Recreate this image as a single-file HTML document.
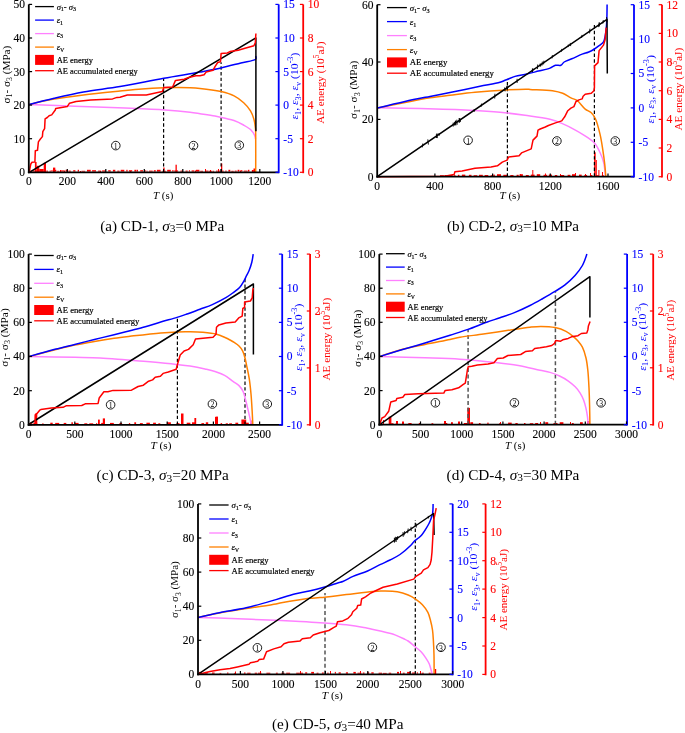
<!DOCTYPE html>
<html><head><meta charset="utf-8"><style>
html,body{margin:0;padding:0;background:#fff;width:685px;height:733px;overflow:hidden;}
svg{display:block;font-family:"Liberation Serif", serif;will-change:transform;}
</style></head><body>
<svg width="685" height="733" viewBox="0 0 685 733" font-family='"Liberation Serif", serif'>
<rect width="685" height="733" fill="#fff"/>
<rect x="34.9" y="162.0" width="1.7" height="10.3" fill="#ff0000"/>
<rect x="36.6" y="165.8" width="2.7" height="6.5" fill="#ff0000"/>
<rect x="39.3" y="169.0" width="4.4" height="3.3" fill="#ff0000"/>
<rect x="43.7" y="162.8" width="2.3" height="9.5" fill="#ff0000"/>
<rect x="53.0" y="167.6" width="2.3" height="4.7" fill="#ff0000"/>
<rect x="60.0" y="170.0" width="1.0" height="2.3" fill="#ff0000"/>
<rect x="64.0" y="170.5" width="1.0" height="1.8" fill="#ff0000"/>
<rect x="80.0" y="171.0" width="1.0" height="1.3" fill="#ff0000"/>
<rect x="100.0" y="171.0" width="1.0" height="1.3" fill="#ff0000"/>
<rect x="130.0" y="171.0" width="1.0" height="1.3" fill="#ff0000"/>
<rect x="163.3" y="167.5" width="1.3" height="4.8" fill="#ff0000"/>
<rect x="175.5" y="164.7" width="1.3" height="7.6" fill="#ff0000"/>
<rect x="195.0" y="170.5" width="1.0" height="1.8" fill="#ff0000"/>
<rect x="205.0" y="169.0" width="1.0" height="3.3" fill="#ff0000"/>
<rect x="210.0" y="170.0" width="1.0" height="2.3" fill="#ff0000"/>
<rect x="218.0" y="169.0" width="1.0" height="3.3" fill="#ff0000"/>
<rect x="221.0" y="163.5" width="1.3" height="8.8" fill="#ff0000"/>
<rect x="240.0" y="170.5" width="1.0" height="1.8" fill="#ff0000"/>
<rect x="252.0" y="170.0" width="1.0" height="2.3" fill="#ff0000"/>
<rect x="253.5" y="168.5" width="2.5" height="3.8" fill="#ff0000"/>
<rect x="30.0" y="170.8" width="1.4" height="0.8" fill="#ff0000"/>
<rect x="32.3" y="170.4" width="2.5" height="1.2" fill="#ff0000"/>
<rect x="36.1" y="170.6" width="2.1" height="1.0" fill="#ff0000"/>
<rect x="38.7" y="170.4" width="1.1" height="1.2" fill="#ff0000"/>
<rect x="41.1" y="170.8" width="3.3" height="0.8" fill="#ff0000"/>
<rect x="46.2" y="170.6" width="1.8" height="1.0" fill="#ff0000"/>
<rect x="49.6" y="170.6" width="1.3" height="1.0" fill="#ff0000"/>
<rect x="51.3" y="170.2" width="1.1" height="1.4" fill="#ff0000"/>
<rect x="52.7" y="169.8" width="3.6" height="1.8" fill="#ff0000"/>
<rect x="57.1" y="170.8" width="2.3" height="0.8" fill="#ff0000"/>
<rect x="60.8" y="170.4" width="3.3" height="1.2" fill="#ff0000"/>
<rect x="65.6" y="169.8" width="2.0" height="1.8" fill="#ff0000"/>
<rect x="68.4" y="170.6" width="2.4" height="1.0" fill="#ff0000"/>
<rect x="73.2" y="170.2" width="2.2" height="1.4" fill="#ff0000"/>
<rect x="77.7" y="169.8" width="1.3" height="1.8" fill="#ff0000"/>
<rect x="81.5" y="170.8" width="3.6" height="0.8" fill="#ff0000"/>
<rect x="87.0" y="169.8" width="3.7" height="1.8" fill="#ff0000"/>
<rect x="92.1" y="170.2" width="3.9" height="1.4" fill="#ff0000"/>
<rect x="98.1" y="170.6" width="3.0" height="1.0" fill="#ff0000"/>
<rect x="102.1" y="170.4" width="3.9" height="1.2" fill="#ff0000"/>
<rect x="108.2" y="170.2" width="2.5" height="1.4" fill="#ff0000"/>
<rect x="112.9" y="169.8" width="2.4" height="1.8" fill="#ff0000"/>
<rect x="117.3" y="170.6" width="2.2" height="1.0" fill="#ff0000"/>
<rect x="120.7" y="169.8" width="3.6" height="1.8" fill="#ff0000"/>
<rect x="126.3" y="169.8" width="1.3" height="1.8" fill="#ff0000"/>
<rect x="128.9" y="170.2" width="3.3" height="1.4" fill="#ff0000"/>
<rect x="134.4" y="169.8" width="2.1" height="1.8" fill="#ff0000"/>
<rect x="136.9" y="169.8" width="1.1" height="1.8" fill="#ff0000"/>
<rect x="140.2" y="170.2" width="2.8" height="1.4" fill="#ff0000"/>
<rect x="144.2" y="170.2" width="1.5" height="1.4" fill="#ff0000"/>
<rect x="146.5" y="170.6" width="1.0" height="1.0" fill="#ff0000"/>
<rect x="149.1" y="170.6" width="3.6" height="1.0" fill="#ff0000"/>
<rect x="153.8" y="170.2" width="2.0" height="1.4" fill="#ff0000"/>
<rect x="156.9" y="169.8" width="3.7" height="1.8" fill="#ff0000"/>
<rect x="162.2" y="170.8" width="3.9" height="0.8" fill="#ff0000"/>
<rect x="167.2" y="169.8" width="3.6" height="1.8" fill="#ff0000"/>
<rect x="172.2" y="170.2" width="1.4" height="1.4" fill="#ff0000"/>
<rect x="174.3" y="170.4" width="3.8" height="1.2" fill="#ff0000"/>
<rect x="180.4" y="170.6" width="2.7" height="1.0" fill="#ff0000"/>
<rect x="185.5" y="170.6" width="2.2" height="1.0" fill="#ff0000"/>
<rect x="188.9" y="170.2" width="1.0" height="1.4" fill="#ff0000"/>
<rect x="191.6" y="170.4" width="2.8" height="1.2" fill="#ff0000"/>
<rect x="196.0" y="169.8" width="3.4" height="1.8" fill="#ff0000"/>
<rect x="200.2" y="170.8" width="2.8" height="0.8" fill="#ff0000"/>
<rect x="205.0" y="170.6" width="3.4" height="1.0" fill="#ff0000"/>
<rect x="208.7" y="170.8" width="3.8" height="0.8" fill="#ff0000"/>
<rect x="213.0" y="170.8" width="1.1" height="0.8" fill="#ff0000"/>
<rect x="216.0" y="170.6" width="1.8" height="1.0" fill="#ff0000"/>
<rect x="218.4" y="170.6" width="2.9" height="1.0" fill="#ff0000"/>
<rect x="222.2" y="170.6" width="1.5" height="1.0" fill="#ff0000"/>
<rect x="225.2" y="170.6" width="1.5" height="1.0" fill="#ff0000"/>
<rect x="228.4" y="169.8" width="1.9" height="1.8" fill="#ff0000"/>
<rect x="231.3" y="170.8" width="2.4" height="0.8" fill="#ff0000"/>
<rect x="234.7" y="170.6" width="2.0" height="1.0" fill="#ff0000"/>
<rect x="237.6" y="169.8" width="1.8" height="1.8" fill="#ff0000"/>
<rect x="240.8" y="170.2" width="1.6" height="1.4" fill="#ff0000"/>
<rect x="243.7" y="170.6" width="3.9" height="1.0" fill="#ff0000"/>
<rect x="248.0" y="169.8" width="1.4" height="1.8" fill="#ff0000"/>
<rect x="251.8" y="170.2" width="2.3" height="1.4" fill="#ff0000"/>
<rect x="255.9" y="170.6" width="0.1" height="1.0" fill="#ff0000"/>
<line x1="163.6" y1="172.3" x2="163.6" y2="78.2" stroke="#000000" stroke-width="1.2" stroke-dasharray="3.4,2.3"/>
<line x1="221.1" y1="172.3" x2="221.1" y2="62.2" stroke="#000000" stroke-width="1.2" stroke-dasharray="3.4,2.3"/>
<path d="M29.20,104.60 C29.20,104.60 59.40,105.65 75.00,106.20 C91.30,106.78 109.26,107.32 125.00,108.00 C139.08,108.61 153.23,109.16 165.00,110.00 C174.32,110.66 183.55,111.55 190.00,112.30 C194.09,112.77 196.33,113.16 200.00,113.70 C204.50,114.36 210.52,115.14 215.00,116.00 C218.68,116.71 221.76,117.53 225.00,118.30 C228.08,119.03 231.01,119.44 234.00,120.50 C237.18,121.63 240.58,123.34 243.50,125.00 C246.21,126.53 249.06,128.07 251.00,130.00 C252.68,131.67 254.08,133.90 254.80,135.60 C255.31,136.82 255.50,139.00 255.50,139.00" fill="none" stroke="#ff80ff" stroke-width="1.5" stroke-linejoin="round"/>
<path d="M29.20,104.60 C29.20,104.60 36.14,102.69 40.00,101.80 C44.40,100.78 48.60,99.85 54.20,98.90 C62.18,97.54 73.11,96.15 83.40,94.90 C94.90,93.50 109.36,92.08 120.00,91.00 C128.23,90.17 134.59,89.45 141.90,88.90 C149.19,88.35 157.24,87.95 163.80,87.70 C169.16,87.50 173.06,87.33 178.40,87.40 C184.90,87.48 192.86,87.70 200.00,88.40 C207.09,89.10 214.97,90.13 221.10,91.60 C226.01,92.78 230.23,93.93 234.10,95.90 C237.70,97.73 240.91,100.21 243.70,102.80 C246.34,105.24 248.77,108.05 250.50,110.90 C252.08,113.51 253.07,116.21 253.90,119.10 C254.77,122.13 255.21,125.61 255.50,128.70 C255.77,131.56 255.66,133.27 255.70,137.00 C255.79,144.68 255.70,172.30 255.70,172.30" fill="none" stroke="#ff8000" stroke-width="1.5" stroke-linejoin="round"/>
<path d="M29.20,104.60 C29.20,104.60 45.53,100.33 54.20,98.30 C63.54,96.12 73.08,93.87 83.40,92.00 C94.88,89.92 107.28,88.76 120.00,86.60 C133.97,84.23 149.88,80.71 163.80,78.20 C176.43,75.93 189.56,73.99 200.00,72.10 C207.99,70.65 214.20,69.56 221.10,68.00 C227.83,66.48 234.78,64.47 240.90,62.90 C246.19,61.54 254.19,61.05 255.70,59.10 C256.37,58.23 255.70,56.10 255.70,56.10" fill="none" stroke="#0000ff" stroke-width="1.5" stroke-linejoin="round"/>
<polyline points="29.2,172.3 255.9,38.0 255.9,131.3" fill="none" stroke="#000000" stroke-width="1.5" stroke-linejoin="round" />
<polyline points="29.4,172.1 30.0,168.0 30.8,164.0 32.0,162.3 34.9,162.0 35.3,150.8 37.5,150.3 38.4,141.9 40.2,139.3 42.4,136.6 42.8,131.7 44.6,128.6 45.1,118.9 47.3,117.5 49.1,115.8 51.7,114.9 55.3,110.0 55.7,108.5 63.0,107.3 67.3,106.6 69.5,103.2 76.1,101.5 90.7,100.0 112.6,98.9 117.0,97.4 120.0,97.2 127.3,95.0 146.3,95.0 162.3,91.4 163.8,87.4 172.6,87.0 175.5,80.4 184.2,79.3 188.6,77.5 195.9,75.8 200.0,75.7 204.1,74.8 206.1,72.1 213.0,70.3 215.0,66.6 217.7,62.5 220.5,61.8 221.1,53.6 227.3,53.0 230.0,51.6 238.2,50.2 245.0,48.2 253.9,45.7 255.3,42.7 255.9,33.5" fill="none" stroke="#ff0000" stroke-width="1.5" stroke-linejoin="round" />
<circle cx="115.8" cy="145.6" r="4.3" fill="none" stroke="#111" stroke-width="0.95"/>
<text x="115.8" y="148.8" font-size="7.8" fill="#000" text-anchor="middle" >1</text>
<circle cx="193.5" cy="145.6" r="4.3" fill="none" stroke="#111" stroke-width="0.95"/>
<text x="193.5" y="148.8" font-size="7.8" fill="#000" text-anchor="middle" >2</text>
<circle cx="239.3" cy="145.2" r="4.3" fill="none" stroke="#111" stroke-width="0.95"/>
<text x="239.3" y="148.4" font-size="7.8" fill="#000" text-anchor="middle" >3</text>
<line x1="28.8" y1="4.4" x2="28.8" y2="173.2" stroke="#000000" stroke-width="1.8" />
<line x1="27.9" y1="172.3" x2="278.7" y2="172.3" stroke="#000000" stroke-width="1.8" />
<line x1="278.7" y1="4.4" x2="278.7" y2="173.2" stroke="#0000ff" stroke-width="1.8" />
<line x1="303.2" y1="4.4" x2="303.2" y2="173.2" stroke="#ff0000" stroke-width="1.8" />
<line x1="28.8" y1="172.3" x2="32.1" y2="172.3" stroke="#000000" stroke-width="1.2" />
<text x="25.0" y="176.2" font-size="11.5" fill="#000" text-anchor="end"  stroke="#000" stroke-width="0.12">0</text>
<line x1="28.8" y1="138.7" x2="32.1" y2="138.7" stroke="#000000" stroke-width="1.2" />
<text x="25.0" y="142.6" font-size="11.5" fill="#000" text-anchor="end"  stroke="#000" stroke-width="0.12">10</text>
<line x1="28.8" y1="105.1" x2="32.1" y2="105.1" stroke="#000000" stroke-width="1.2" />
<text x="25.0" y="109.0" font-size="11.5" fill="#000" text-anchor="end"  stroke="#000" stroke-width="0.12">20</text>
<line x1="28.8" y1="71.6" x2="32.1" y2="71.6" stroke="#000000" stroke-width="1.2" />
<text x="25.0" y="75.5" font-size="11.5" fill="#000" text-anchor="end"  stroke="#000" stroke-width="0.12">30</text>
<line x1="28.8" y1="38.0" x2="32.1" y2="38.0" stroke="#000000" stroke-width="1.2" />
<text x="25.0" y="41.9" font-size="11.5" fill="#000" text-anchor="end"  stroke="#000" stroke-width="0.12">40</text>
<line x1="28.8" y1="4.4" x2="32.1" y2="4.4" stroke="#000000" stroke-width="1.2" />
<text x="25.0" y="8.3" font-size="11.5" fill="#000" text-anchor="end"  stroke="#000" stroke-width="0.12">50</text>
<text x="28.8" y="184.6" font-size="11.5" fill="#000" text-anchor="middle"  stroke="#000" stroke-width="0.12">0</text>
<line x1="67.3" y1="172.3" x2="67.3" y2="169.0" stroke="#000000" stroke-width="1.2" />
<text x="67.3" y="184.6" font-size="11.5" fill="#000" text-anchor="middle"  stroke="#000" stroke-width="0.12">200</text>
<line x1="105.8" y1="172.3" x2="105.8" y2="169.0" stroke="#000000" stroke-width="1.2" />
<text x="105.8" y="184.6" font-size="11.5" fill="#000" text-anchor="middle"  stroke="#000" stroke-width="0.12">400</text>
<line x1="144.3" y1="172.3" x2="144.3" y2="169.0" stroke="#000000" stroke-width="1.2" />
<text x="144.3" y="184.6" font-size="11.5" fill="#000" text-anchor="middle"  stroke="#000" stroke-width="0.12">600</text>
<line x1="182.8" y1="172.3" x2="182.8" y2="169.0" stroke="#000000" stroke-width="1.2" />
<text x="182.8" y="184.6" font-size="11.5" fill="#000" text-anchor="middle"  stroke="#000" stroke-width="0.12">800</text>
<line x1="221.3" y1="172.3" x2="221.3" y2="169.0" stroke="#000000" stroke-width="1.2" />
<text x="221.3" y="184.6" font-size="11.5" fill="#000" text-anchor="middle"  stroke="#000" stroke-width="0.12">1000</text>
<line x1="259.8" y1="172.3" x2="259.8" y2="169.0" stroke="#000000" stroke-width="1.2" />
<text x="259.8" y="184.6" font-size="11.5" fill="#000" text-anchor="middle"  stroke="#000" stroke-width="0.12">1200</text>
<line x1="278.7" y1="172.3" x2="275.4" y2="172.3" stroke="#0000ff" stroke-width="1.2" />
<text x="283.3" y="176.2" font-size="11.5" fill="#0000ff" text-anchor="start"  stroke="#0000ff" stroke-width="0.12">-10</text>
<line x1="278.7" y1="138.7" x2="275.4" y2="138.7" stroke="#0000ff" stroke-width="1.2" />
<text x="283.3" y="142.6" font-size="11.5" fill="#0000ff" text-anchor="start"  stroke="#0000ff" stroke-width="0.12">-5</text>
<line x1="278.7" y1="105.1" x2="275.4" y2="105.1" stroke="#0000ff" stroke-width="1.2" />
<text x="283.3" y="109.0" font-size="11.5" fill="#0000ff" text-anchor="start"  stroke="#0000ff" stroke-width="0.12">0</text>
<line x1="278.7" y1="71.6" x2="275.4" y2="71.6" stroke="#0000ff" stroke-width="1.2" />
<text x="283.3" y="75.5" font-size="11.5" fill="#0000ff" text-anchor="start"  stroke="#0000ff" stroke-width="0.12">5</text>
<line x1="278.7" y1="38.0" x2="275.4" y2="38.0" stroke="#0000ff" stroke-width="1.2" />
<text x="283.3" y="41.9" font-size="11.5" fill="#0000ff" text-anchor="start"  stroke="#0000ff" stroke-width="0.12">10</text>
<line x1="278.7" y1="4.4" x2="275.4" y2="4.4" stroke="#0000ff" stroke-width="1.2" />
<text x="283.3" y="8.3" font-size="11.5" fill="#0000ff" text-anchor="start"  stroke="#0000ff" stroke-width="0.12">15</text>
<line x1="303.2" y1="172.3" x2="299.9" y2="172.3" stroke="#ff0000" stroke-width="1.2" />
<text x="307.8" y="176.2" font-size="11.5" fill="#ff0000" text-anchor="start"  stroke="#ff0000" stroke-width="0.12">0</text>
<line x1="303.2" y1="138.7" x2="299.9" y2="138.7" stroke="#ff0000" stroke-width="1.2" />
<text x="307.8" y="142.6" font-size="11.5" fill="#ff0000" text-anchor="start"  stroke="#ff0000" stroke-width="0.12">2</text>
<line x1="303.2" y1="105.1" x2="299.9" y2="105.1" stroke="#ff0000" stroke-width="1.2" />
<text x="307.8" y="109.0" font-size="11.5" fill="#ff0000" text-anchor="start"  stroke="#ff0000" stroke-width="0.12">4</text>
<line x1="303.2" y1="71.6" x2="299.9" y2="71.6" stroke="#ff0000" stroke-width="1.2" />
<text x="307.8" y="75.5" font-size="11.5" fill="#ff0000" text-anchor="start"  stroke="#ff0000" stroke-width="0.12">6</text>
<line x1="303.2" y1="38.0" x2="299.9" y2="38.0" stroke="#ff0000" stroke-width="1.2" />
<text x="307.8" y="41.9" font-size="11.5" fill="#ff0000" text-anchor="start"  stroke="#ff0000" stroke-width="0.12">8</text>
<line x1="303.2" y1="4.4" x2="299.9" y2="4.4" stroke="#ff0000" stroke-width="1.2" />
<text x="307.8" y="8.3" font-size="11.5" fill="#ff0000" text-anchor="start"  stroke="#ff0000" stroke-width="0.12">10</text>
<text x="0" y="0" font-size="11.3" fill="#000" text-anchor="middle" transform="translate(9.8,74.6) rotate(-90)" textLength="57.8" lengthAdjust="spacingAndGlyphs"><tspan>σ</tspan><tspan dy="2.49" font-size="7.91">1</tspan><tspan dy="-2.49">- </tspan><tspan>σ</tspan><tspan dy="2.49" font-size="7.91">3</tspan><tspan dy="-2.49"> (MPa)</tspan></text>
<text x="0" y="0" font-size="11.3" fill="#0000ff" text-anchor="middle" transform="translate(298.0,86.1) rotate(-90)" textLength="66.9" lengthAdjust="spacingAndGlyphs"><tspan font-style="italic">ε</tspan><tspan dy="2.49" font-size="7.91">1</tspan><tspan dy="-2.49">, </tspan><tspan font-style="italic">ε</tspan><tspan dy="2.49" font-size="7.91">3</tspan><tspan dy="-2.49">, </tspan><tspan font-style="italic">ε</tspan><tspan dy="2.49" font-size="7.91">v</tspan><tspan dy="-2.49"> (10</tspan><tspan dy="-4.52" font-size="7.91">-3</tspan><tspan dy="4.52">)</tspan></text>
<text x="0" y="0" font-size="11.3" fill="#ff0000" text-anchor="middle" transform="translate(323.9,82.7) rotate(-90)" textLength="82.2" lengthAdjust="spacingAndGlyphs"><tspan>AE energy (10</tspan><tspan dy="-4.52" font-size="7.91">5</tspan><tspan dy="4.52">aJ)</tspan></text>
<text x="163.2" y="198.8" font-size="11.3" fill="#000" text-anchor="middle" textLength="20.3" lengthAdjust="spacingAndGlyphs"><tspan font-style="italic">T</tspan><tspan> (s)</tspan></text>
<text x="162.2" y="230.8" font-size="15.2" fill="#000" text-anchor="middle" textLength="124.1" lengthAdjust="spacingAndGlyphs"><tspan>(a) CD-1, </tspan><tspan font-style="italic">σ</tspan><tspan dy="1.52" font-size="11.40">3</tspan><tspan dy="-1.52">=0 MPa</tspan></text>
<line x1="35.1" y1="6.6" x2="53.9" y2="6.6" stroke="#000000" stroke-width="1.3" />
<text x="56.7" y="9.6" font-size="8.45" fill="#000" text-anchor="start"  stroke="#000" stroke-width="0.18"><tspan font-style="italic">σ</tspan><tspan dy="1.86" font-size="5.91">1</tspan><tspan dy="-1.86">- </tspan><tspan font-style="italic">σ</tspan><tspan dy="1.86" font-size="5.91">3</tspan></text>
<line x1="35.1" y1="20.1" x2="53.9" y2="20.1" stroke="#0000ff" stroke-width="1.3" />
<text x="56.7" y="23.1" font-size="8.45" fill="#000" text-anchor="start"  stroke="#000" stroke-width="0.18"><tspan font-style="italic">ε</tspan><tspan dy="1.86" font-size="5.91">1</tspan></text>
<line x1="35.1" y1="33.6" x2="53.9" y2="33.6" stroke="#ff80ff" stroke-width="1.3" />
<text x="56.7" y="36.6" font-size="8.45" fill="#000" text-anchor="start"  stroke="#000" stroke-width="0.18"><tspan font-style="italic">ε</tspan><tspan dy="1.86" font-size="5.91">3</tspan></text>
<line x1="35.1" y1="47.1" x2="53.9" y2="47.1" stroke="#ff8000" stroke-width="1.3" />
<text x="56.7" y="50.1" font-size="8.45" fill="#000" text-anchor="start"  stroke="#000" stroke-width="0.18"><tspan font-style="italic">ε</tspan><tspan dy="1.86" font-size="5.91">V</tspan></text>
<rect x="35.1" y="54.9" width="18.8" height="10.0" fill="#ff0000"/>
<text x="56.7" y="62.9" font-size="8.45" fill="#000" text-anchor="start"  stroke="#000" stroke-width="0.18" textLength="36.2" lengthAdjust="spacingAndGlyphs">AE energy</text>
<line x1="35.1" y1="70.7" x2="53.9" y2="70.7" stroke="#ff0000" stroke-width="1.3" />
<text x="56.7" y="73.7" font-size="8.45" fill="#000" text-anchor="start"  stroke="#000" stroke-width="0.18" textLength="81.0" lengthAdjust="spacingAndGlyphs">AE accumulated energy</text>
<rect x="594.1" y="152.3" width="1.6" height="24.4" fill="#ff0000"/>
<rect x="595.8" y="160.0" width="1.0" height="16.7" fill="#ff0000"/>
<rect x="532.3" y="170.0" width="1.0" height="6.7" fill="#ff0000"/>
<rect x="598.4" y="170.0" width="1.0" height="6.7" fill="#ff0000"/>
<rect x="602.0" y="172.0" width="1.0" height="4.7" fill="#ff0000"/>
<rect x="520.0" y="174.0" width="1.0" height="2.7" fill="#ff0000"/>
<rect x="545.0" y="173.5" width="1.0" height="3.2" fill="#ff0000"/>
<rect x="560.0" y="174.0" width="1.0" height="2.7" fill="#ff0000"/>
<rect x="575.0" y="173.0" width="1.0" height="3.7" fill="#ff0000"/>
<rect x="585.0" y="174.0" width="1.0" height="2.7" fill="#ff0000"/>
<rect x="590.0" y="173.0" width="1.0" height="3.7" fill="#ff0000"/>
<rect x="440.0" y="175.2" width="3.9" height="0.8" fill="#ff0000"/>
<rect x="444.6" y="175.0" width="2.1" height="1.0" fill="#ff0000"/>
<rect x="449.6" y="175.0" width="3.0" height="1.0" fill="#ff0000"/>
<rect x="453.9" y="175.2" width="1.6" height="0.8" fill="#ff0000"/>
<rect x="457.9" y="174.8" width="1.5" height="1.2" fill="#ff0000"/>
<rect x="461.9" y="174.6" width="3.4" height="1.4" fill="#ff0000"/>
<rect x="468.9" y="174.8" width="2.6" height="1.2" fill="#ff0000"/>
<rect x="473.6" y="175.2" width="3.7" height="0.8" fill="#ff0000"/>
<rect x="479.0" y="174.8" width="3.8" height="1.2" fill="#ff0000"/>
<rect x="484.6" y="175.0" width="3.7" height="1.0" fill="#ff0000"/>
<rect x="490.6" y="175.2" width="1.7" height="0.8" fill="#ff0000"/>
<rect x="493.3" y="174.6" width="1.5" height="1.4" fill="#ff0000"/>
<rect x="497.0" y="174.2" width="4.0" height="1.8" fill="#ff0000"/>
<rect x="503.3" y="174.8" width="4.0" height="1.2" fill="#ff0000"/>
<rect x="510.3" y="175.0" width="3.2" height="1.0" fill="#ff0000"/>
<rect x="516.6" y="174.8" width="2.1" height="1.2" fill="#ff0000"/>
<rect x="519.6" y="174.2" width="3.3" height="1.8" fill="#ff0000"/>
<rect x="525.8" y="175.0" width="3.0" height="1.0" fill="#ff0000"/>
<rect x="530.8" y="174.6" width="3.8" height="1.4" fill="#ff0000"/>
<rect x="536.8" y="174.2" width="3.4" height="1.8" fill="#ff0000"/>
<rect x="543.5" y="174.8" width="3.7" height="1.2" fill="#ff0000"/>
<rect x="548.8" y="174.6" width="3.2" height="1.4" fill="#ff0000"/>
<rect x="554.8" y="175.0" width="2.5" height="1.0" fill="#ff0000"/>
<rect x="560.8" y="175.0" width="3.4" height="1.0" fill="#ff0000"/>
<rect x="567.6" y="174.8" width="2.8" height="1.2" fill="#ff0000"/>
<rect x="572.0" y="174.2" width="3.9" height="1.8" fill="#ff0000"/>
<rect x="579.0" y="174.6" width="2.7" height="1.4" fill="#ff0000"/>
<rect x="584.3" y="175.0" width="2.8" height="1.0" fill="#ff0000"/>
<rect x="589.9" y="175.0" width="2.5" height="1.0" fill="#ff0000"/>
<rect x="595.9" y="175.2" width="2.9" height="0.8" fill="#ff0000"/>
<rect x="601.8" y="175.2" width="2.0" height="0.8" fill="#ff0000"/>
<line x1="507.4" y1="176.7" x2="507.4" y2="78.7" stroke="#000000" stroke-width="1.2" stroke-dasharray="3.4,2.3"/>
<line x1="594.4" y1="176.7" x2="594.4" y2="25.0" stroke="#000000" stroke-width="1.2" stroke-dasharray="3.4,2.3"/>
<path d="M377.50,107.80 C377.50,107.80 405.19,108.21 419.90,108.60 C435.86,109.02 455.25,109.57 469.80,110.30 C481.13,110.87 490.42,111.41 500.00,112.30 C508.74,113.11 516.69,114.13 525.00,115.30 C533.32,116.47 543.08,117.59 549.90,119.30 C554.84,120.54 558.29,121.88 562.40,123.60 C566.62,125.37 570.78,127.55 574.90,129.80 C579.11,132.10 583.84,134.78 587.40,137.30 C590.31,139.36 592.83,141.03 594.90,143.50 C597.01,146.02 598.46,149.21 599.90,152.30 C601.38,155.47 602.71,158.74 603.60,162.30 C604.57,166.16 605.02,172.33 605.30,174.70 C605.41,175.65 605.50,176.70 605.50,176.70" fill="none" stroke="#ff80ff" stroke-width="1.5" stroke-linejoin="round"/>
<path d="M377.50,108.00 C377.50,108.00 396.05,104.24 405.00,102.50 C413.53,100.85 422.11,99.05 430.00,97.80 C437.02,96.68 442.96,96.08 450.00,95.20 C457.87,94.22 466.18,93.05 475.00,92.20 C484.88,91.25 497.04,90.40 506.50,89.90 C514.23,89.49 524.06,89.04 527.60,89.20 C528.80,89.25 528.79,89.39 530.00,89.50 C533.69,89.83 546.50,89.78 552.50,90.70 C556.60,91.33 559.56,92.04 562.70,93.30 C565.67,94.49 568.33,96.66 570.90,97.90 C573.05,98.94 574.97,99.00 577.00,100.40 C579.74,102.28 582.52,106.96 585.20,109.10 C587.26,110.75 589.61,111.11 591.30,112.70 C593.02,114.32 594.17,116.19 595.40,118.80 C597.22,122.66 598.76,129.01 600.00,134.20 C601.23,139.35 601.99,144.64 602.80,149.80 C603.59,154.84 604.29,160.08 604.80,164.80 C605.26,168.99 605.80,176.70 605.80,176.70" fill="none" stroke="#ff8000" stroke-width="1.5" stroke-linejoin="round"/>
<path d="M377.50,108.00 C377.50,108.00 396.04,103.47 405.00,101.50 C413.52,99.63 422.13,97.97 430.00,96.40 C437.03,95.00 442.66,93.97 450.00,92.50 C458.99,90.69 471.01,88.13 480.00,86.30 C487.34,84.81 495.59,83.61 500.00,82.30 C502.26,81.63 503.54,80.86 505.00,80.30 C506.12,79.87 506.80,79.66 508.00,79.20 C509.85,78.49 512.33,77.20 515.00,76.40 C518.36,75.39 522.81,74.88 526.70,74.00 C530.61,73.12 534.51,72.08 538.40,71.10 C542.28,70.12 546.90,69.27 550.00,68.10 C552.23,67.26 553.62,65.75 555.50,65.30 C557.26,64.88 559.42,65.91 560.90,65.30 C562.28,64.73 562.75,62.97 564.20,62.00 C566.12,60.71 569.04,60.00 571.80,58.80 C575.14,57.36 579.75,55.05 582.80,53.90 C584.89,53.11 586.42,52.91 588.20,52.20 C590.05,51.46 591.92,50.56 593.70,49.50 C595.55,48.40 597.43,47.02 599.10,45.70 C600.68,44.45 602.50,43.37 603.50,41.80 C604.48,40.26 604.67,38.38 605.10,36.40 C605.61,34.08 605.92,31.35 606.20,28.70 C606.50,25.89 606.65,23.32 606.80,20.00 C607.00,15.58 607.10,4.50 607.10,4.50" fill="none" stroke="#0000ff" stroke-width="1.5" stroke-linejoin="round"/>
<polyline points="377.2,176.7 607.0,19.3 607.3,73.6" fill="none" stroke="#000000" stroke-width="1.5" stroke-linejoin="round" />
<line x1="504.6" y1="87.5" x2="505.1" y2="91.4" stroke="#000000" stroke-width="0.9" />
<line x1="507.1" y1="85.8" x2="507.2" y2="89.7" stroke="#000000" stroke-width="0.9" />
<line x1="454.5" y1="121.8" x2="454.7" y2="125.6" stroke="#000000" stroke-width="0.9" />
<line x1="568.3" y1="44.5" x2="568.1" y2="47.1" stroke="#000000" stroke-width="0.9" />
<line x1="437.0" y1="133.4" x2="437.2" y2="138.1" stroke="#000000" stroke-width="0.9" />
<line x1="427.8" y1="139.4" x2="428.4" y2="144.6" stroke="#000000" stroke-width="0.9" />
<line x1="542.3" y1="61.6" x2="541.9" y2="65.7" stroke="#000000" stroke-width="0.9" />
<line x1="422.8" y1="143.5" x2="422.3" y2="147.4" stroke="#000000" stroke-width="0.9" />
<line x1="455.6" y1="121.5" x2="455.0" y2="124.6" stroke="#000000" stroke-width="0.9" />
<line x1="506.8" y1="86.1" x2="507.2" y2="89.8" stroke="#000000" stroke-width="0.9" />
<line x1="517.1" y1="78.8" x2="517.1" y2="83.0" stroke="#000000" stroke-width="0.9" />
<line x1="543.9" y1="60.7" x2="543.6" y2="64.4" stroke="#000000" stroke-width="0.9" />
<line x1="606.6" y1="17.0" x2="607.0" y2="22.2" stroke="#000000" stroke-width="0.9" />
<line x1="552.4" y1="55.1" x2="552.0" y2="58.4" stroke="#000000" stroke-width="0.9" />
<line x1="474.1" y1="109.1" x2="474.4" y2="111.7" stroke="#000000" stroke-width="0.9" />
<line x1="494.9" y1="93.7" x2="494.7" y2="98.5" stroke="#000000" stroke-width="0.9" />
<line x1="599.2" y1="22.3" x2="598.6" y2="27.1" stroke="#000000" stroke-width="0.9" />
<line x1="459.2" y1="118.0" x2="459.2" y2="123.0" stroke="#000000" stroke-width="0.9" />
<line x1="603.3" y1="20.1" x2="602.8" y2="23.6" stroke="#000000" stroke-width="0.9" />
<line x1="537.7" y1="64.5" x2="537.4" y2="69.1" stroke="#000000" stroke-width="0.9" />
<line x1="436.3" y1="134.6" x2="436.9" y2="137.9" stroke="#000000" stroke-width="0.9" />
<line x1="561.8" y1="48.9" x2="561.4" y2="51.7" stroke="#000000" stroke-width="0.9" />
<line x1="438.9" y1="133.2" x2="439.3" y2="135.7" stroke="#000000" stroke-width="0.9" />
<line x1="453.2" y1="122.6" x2="453.2" y2="126.6" stroke="#000000" stroke-width="0.9" />
<line x1="455.7" y1="120.7" x2="455.2" y2="125.2" stroke="#000000" stroke-width="0.9" />
<line x1="540.4" y1="63.6" x2="540.3" y2="66.3" stroke="#000000" stroke-width="0.9" />
<line x1="459.8" y1="118.5" x2="460.4" y2="121.7" stroke="#000000" stroke-width="0.9" />
<line x1="570.2" y1="42.9" x2="570.7" y2="46.1" stroke="#000000" stroke-width="0.9" />
<line x1="459.4" y1="118.6" x2="459.8" y2="122.1" stroke="#000000" stroke-width="0.9" />
<line x1="540.0" y1="63.8" x2="540.6" y2="66.5" stroke="#000000" stroke-width="0.9" />
<line x1="459.9" y1="118.5" x2="460.2" y2="121.6" stroke="#000000" stroke-width="0.9" />
<line x1="481.5" y1="103.6" x2="481.0" y2="106.9" stroke="#000000" stroke-width="0.9" />
<line x1="436.9" y1="133.8" x2="436.5" y2="137.9" stroke="#000000" stroke-width="0.9" />
<line x1="532.4" y1="68.6" x2="532.4" y2="72.1" stroke="#000000" stroke-width="0.9" />
<line x1="599.4" y1="22.7" x2="599.4" y2="26.4" stroke="#000000" stroke-width="0.9" />
<line x1="582.0" y1="34.9" x2="581.6" y2="37.9" stroke="#000000" stroke-width="0.9" />
<line x1="589.9" y1="28.7" x2="589.6" y2="33.4" stroke="#000000" stroke-width="0.9" />
<line x1="455.5" y1="120.8" x2="456.0" y2="125.3" stroke="#000000" stroke-width="0.9" />
<line x1="456.8" y1="119.7" x2="457.2" y2="124.7" stroke="#000000" stroke-width="0.9" />
<line x1="532.9" y1="68.3" x2="532.4" y2="71.9" stroke="#000000" stroke-width="0.9" />
<polyline points="377.5,176.7 444.5,176.2 454.1,174.6 454.9,171.7 462.1,171.1 475.0,168.2 491.0,166.9 497.4,165.8 502.3,162.1 507.1,160.1 508.7,156.9 519.1,155.7 521.5,152.9 531.2,148.9 533.0,140.1 537.0,136.1 538.0,130.2 540.2,129.0 545.3,127.0 548.4,125.5 555.5,122.9 561.7,120.9 564.7,116.8 567.8,110.7 570.9,108.1 573.9,106.6 576.0,101.5 579.0,99.9 582.1,98.9 583.1,96.3 585.2,94.3 591.3,93.3 593.9,90.7 594.4,88.2 594.6,65.9 598.0,62.6 599.1,50.6 603.5,45.1 605.1,39.7 606.2,27.6" fill="none" stroke="#ff0000" stroke-width="1.5" stroke-linejoin="round" />
<circle cx="468.1" cy="140.3" r="4.3" fill="none" stroke="#111" stroke-width="0.95"/>
<text x="468.1" y="143.5" font-size="7.8" fill="#000" text-anchor="middle" >1</text>
<circle cx="556.9" cy="141.0" r="4.3" fill="none" stroke="#111" stroke-width="0.95"/>
<text x="556.9" y="144.2" font-size="7.8" fill="#000" text-anchor="middle" >2</text>
<circle cx="615.3" cy="141.0" r="4.3" fill="none" stroke="#111" stroke-width="0.95"/>
<text x="615.3" y="144.2" font-size="7.8" fill="#000" text-anchor="middle" >3</text>
<line x1="377.2" y1="4.7" x2="377.2" y2="177.6" stroke="#000000" stroke-width="1.8" />
<line x1="376.3" y1="176.7" x2="634.0" y2="176.7" stroke="#000000" stroke-width="1.8" />
<line x1="634.0" y1="4.7" x2="634.0" y2="177.6" stroke="#0000ff" stroke-width="1.8" />
<line x1="662.0" y1="4.7" x2="662.0" y2="177.6" stroke="#ff0000" stroke-width="1.8" />
<line x1="377.2" y1="176.7" x2="380.5" y2="176.7" stroke="#000000" stroke-width="1.2" />
<text x="373.4" y="180.6" font-size="11.5" fill="#000" text-anchor="end"  stroke="#000" stroke-width="0.12">0</text>
<line x1="377.2" y1="119.4" x2="380.5" y2="119.4" stroke="#000000" stroke-width="1.2" />
<text x="373.4" y="123.3" font-size="11.5" fill="#000" text-anchor="end"  stroke="#000" stroke-width="0.12">20</text>
<line x1="377.2" y1="62.0" x2="380.5" y2="62.0" stroke="#000000" stroke-width="1.2" />
<text x="373.4" y="65.9" font-size="11.5" fill="#000" text-anchor="end"  stroke="#000" stroke-width="0.12">40</text>
<line x1="377.2" y1="4.7" x2="380.5" y2="4.7" stroke="#000000" stroke-width="1.2" />
<text x="373.4" y="8.6" font-size="11.5" fill="#000" text-anchor="end"  stroke="#000" stroke-width="0.12">60</text>
<text x="377.2" y="189.5" font-size="11.5" fill="#000" text-anchor="middle"  stroke="#000" stroke-width="0.12">0</text>
<line x1="434.9" y1="176.7" x2="434.9" y2="173.4" stroke="#000000" stroke-width="1.2" />
<text x="434.9" y="189.5" font-size="11.5" fill="#000" text-anchor="middle"  stroke="#000" stroke-width="0.12">400</text>
<line x1="492.6" y1="176.7" x2="492.6" y2="173.4" stroke="#000000" stroke-width="1.2" />
<text x="492.6" y="189.5" font-size="11.5" fill="#000" text-anchor="middle"  stroke="#000" stroke-width="0.12">800</text>
<line x1="550.3" y1="176.7" x2="550.3" y2="173.4" stroke="#000000" stroke-width="1.2" />
<text x="550.3" y="189.5" font-size="11.5" fill="#000" text-anchor="middle"  stroke="#000" stroke-width="0.12">1200</text>
<line x1="608.0" y1="176.7" x2="608.0" y2="173.4" stroke="#000000" stroke-width="1.2" />
<text x="608.0" y="189.5" font-size="11.5" fill="#000" text-anchor="middle"  stroke="#000" stroke-width="0.12">1600</text>
<line x1="634.0" y1="176.7" x2="630.7" y2="176.7" stroke="#0000ff" stroke-width="1.2" />
<text x="638.6" y="180.6" font-size="11.5" fill="#0000ff" text-anchor="start"  stroke="#0000ff" stroke-width="0.12">-10</text>
<line x1="634.0" y1="142.3" x2="630.7" y2="142.3" stroke="#0000ff" stroke-width="1.2" />
<text x="638.6" y="146.2" font-size="11.5" fill="#0000ff" text-anchor="start"  stroke="#0000ff" stroke-width="0.12">-5</text>
<line x1="634.0" y1="107.9" x2="630.7" y2="107.9" stroke="#0000ff" stroke-width="1.2" />
<text x="638.6" y="111.8" font-size="11.5" fill="#0000ff" text-anchor="start"  stroke="#0000ff" stroke-width="0.12">0</text>
<line x1="634.0" y1="73.5" x2="630.7" y2="73.5" stroke="#0000ff" stroke-width="1.2" />
<text x="638.6" y="77.4" font-size="11.5" fill="#0000ff" text-anchor="start"  stroke="#0000ff" stroke-width="0.12">5</text>
<line x1="634.0" y1="39.1" x2="630.7" y2="39.1" stroke="#0000ff" stroke-width="1.2" />
<text x="638.6" y="43.0" font-size="11.5" fill="#0000ff" text-anchor="start"  stroke="#0000ff" stroke-width="0.12">10</text>
<line x1="634.0" y1="4.7" x2="630.7" y2="4.7" stroke="#0000ff" stroke-width="1.2" />
<text x="638.6" y="8.6" font-size="11.5" fill="#0000ff" text-anchor="start"  stroke="#0000ff" stroke-width="0.12">15</text>
<line x1="662.0" y1="176.7" x2="658.7" y2="176.7" stroke="#ff0000" stroke-width="1.2" />
<text x="666.6" y="180.6" font-size="11.5" fill="#ff0000" text-anchor="start"  stroke="#ff0000" stroke-width="0.12">0</text>
<line x1="662.0" y1="148.0" x2="658.7" y2="148.0" stroke="#ff0000" stroke-width="1.2" />
<text x="666.6" y="151.9" font-size="11.5" fill="#ff0000" text-anchor="start"  stroke="#ff0000" stroke-width="0.12">2</text>
<line x1="662.0" y1="119.4" x2="658.7" y2="119.4" stroke="#ff0000" stroke-width="1.2" />
<text x="666.6" y="123.3" font-size="11.5" fill="#ff0000" text-anchor="start"  stroke="#ff0000" stroke-width="0.12">4</text>
<line x1="662.0" y1="90.7" x2="658.7" y2="90.7" stroke="#ff0000" stroke-width="1.2" />
<text x="666.6" y="94.6" font-size="11.5" fill="#ff0000" text-anchor="start"  stroke="#ff0000" stroke-width="0.12">6</text>
<line x1="662.0" y1="62.0" x2="658.7" y2="62.0" stroke="#ff0000" stroke-width="1.2" />
<text x="666.6" y="65.9" font-size="11.5" fill="#ff0000" text-anchor="start"  stroke="#ff0000" stroke-width="0.12">8</text>
<line x1="662.0" y1="33.4" x2="658.7" y2="33.4" stroke="#ff0000" stroke-width="1.2" />
<text x="666.6" y="37.3" font-size="11.5" fill="#ff0000" text-anchor="start"  stroke="#ff0000" stroke-width="0.12">10</text>
<line x1="662.0" y1="4.7" x2="658.7" y2="4.7" stroke="#ff0000" stroke-width="1.2" />
<text x="666.6" y="8.6" font-size="11.5" fill="#ff0000" text-anchor="start"  stroke="#ff0000" stroke-width="0.12">12</text>
<text x="0" y="0" font-size="11.3" fill="#000" text-anchor="middle" transform="translate(357.3,89.9) rotate(-90)" textLength="58.3" lengthAdjust="spacingAndGlyphs"><tspan>σ</tspan><tspan dy="2.49" font-size="7.91">1</tspan><tspan dy="-2.49">- </tspan><tspan>σ</tspan><tspan dy="2.49" font-size="7.91">3</tspan><tspan dy="-2.49"> (MPa)</tspan></text>
<text x="0" y="0" font-size="11.3" fill="#0000ff" text-anchor="middle" transform="translate(653.8,89.3) rotate(-90)" textLength="68.5" lengthAdjust="spacingAndGlyphs"><tspan font-style="italic">ε</tspan><tspan dy="2.49" font-size="7.91">1</tspan><tspan dy="-2.49">, </tspan><tspan font-style="italic">ε</tspan><tspan dy="2.49" font-size="7.91">3</tspan><tspan dy="-2.49">, </tspan><tspan font-style="italic">ε</tspan><tspan dy="2.49" font-size="7.91">v</tspan><tspan dy="-2.49"> (10</tspan><tspan dy="-4.52" font-size="7.91">-3</tspan><tspan dy="4.52">)</tspan></text>
<text x="0" y="0" font-size="11.3" fill="#ff0000" text-anchor="middle" transform="translate(682.0,89.2) rotate(-90)" textLength="82.8" lengthAdjust="spacingAndGlyphs"><tspan>AE energy (10</tspan><tspan dy="-4.52" font-size="7.91">5</tspan><tspan dy="4.52">aJ)</tspan></text>
<text x="509.8" y="199.3" font-size="11.3" fill="#000" text-anchor="middle" textLength="20.7" lengthAdjust="spacingAndGlyphs"><tspan font-style="italic">T</tspan><tspan> (s)</tspan></text>
<text x="513.0" y="230.6" font-size="15.2" fill="#000" text-anchor="middle" textLength="132.2" lengthAdjust="spacingAndGlyphs"><tspan>(b) CD-2, </tspan><tspan font-style="italic">σ</tspan><tspan dy="1.52" font-size="11.40">3</tspan><tspan dy="-1.52">=10 MPa</tspan></text>
<line x1="387.0" y1="7.6" x2="406.9" y2="7.6" stroke="#000000" stroke-width="1.3" />
<text x="409.7" y="10.6" font-size="8.77" fill="#000" text-anchor="start"  stroke="#000" stroke-width="0.18"><tspan font-style="italic">σ</tspan><tspan dy="1.93" font-size="6.14">1</tspan><tspan dy="-1.93">- </tspan><tspan font-style="italic">σ</tspan><tspan dy="1.93" font-size="6.14">3</tspan></text>
<line x1="387.0" y1="21.6" x2="406.9" y2="21.6" stroke="#0000ff" stroke-width="1.3" />
<text x="409.7" y="24.6" font-size="8.77" fill="#000" text-anchor="start"  stroke="#000" stroke-width="0.18"><tspan font-style="italic">ε</tspan><tspan dy="1.93" font-size="6.14">1</tspan></text>
<line x1="387.0" y1="35.6" x2="406.9" y2="35.6" stroke="#ff80ff" stroke-width="1.3" />
<text x="409.7" y="38.6" font-size="8.77" fill="#000" text-anchor="start"  stroke="#000" stroke-width="0.18"><tspan font-style="italic">ε</tspan><tspan dy="1.93" font-size="6.14">3</tspan></text>
<line x1="387.0" y1="49.6" x2="406.9" y2="49.6" stroke="#ff8000" stroke-width="1.3" />
<text x="409.7" y="52.6" font-size="8.77" fill="#000" text-anchor="start"  stroke="#000" stroke-width="0.18"><tspan font-style="italic">ε</tspan><tspan dy="1.93" font-size="6.14">V</tspan></text>
<rect x="387.0" y="57.4" width="19.9" height="10.0" fill="#ff0000"/>
<text x="409.7" y="65.4" font-size="8.77" fill="#000" text-anchor="start"  stroke="#000" stroke-width="0.18" textLength="37.6" lengthAdjust="spacingAndGlyphs">AE energy</text>
<line x1="387.0" y1="73.2" x2="406.9" y2="73.2" stroke="#ff0000" stroke-width="1.3" />
<text x="409.7" y="76.2" font-size="8.77" fill="#000" text-anchor="start"  stroke="#000" stroke-width="0.18" textLength="84.1" lengthAdjust="spacingAndGlyphs">AE accumulated energy</text>
<rect x="35.0" y="413.7" width="2.3" height="11.1" fill="#ff0000"/>
<rect x="98.0" y="419.6" width="1.8" height="5.2" fill="#ff0000"/>
<rect x="102.8" y="418.4" width="2.2" height="6.4" fill="#ff0000"/>
<rect x="181.0" y="413.5" width="2.5" height="11.3" fill="#ff0000"/>
<rect x="194.4" y="418.0" width="1.8" height="6.8" fill="#ff0000"/>
<rect x="215.0" y="416.8" width="3.0" height="8.0" fill="#ff0000"/>
<rect x="216.1" y="416.7" width="1.8" height="8.1" fill="#ff0000"/>
<rect x="241.4" y="419.5" width="4.8" height="5.3" fill="#ff0000"/>
<rect x="250.0" y="420.5" width="1.5" height="4.3" fill="#ff0000"/>
<rect x="30.0" y="422.7" width="1.7" height="1.4" fill="#ff0000"/>
<rect x="33.5" y="422.9" width="3.7" height="1.2" fill="#ff0000"/>
<rect x="42.3" y="423.3" width="1.2" height="0.8" fill="#ff0000"/>
<rect x="50.3" y="422.7" width="2.4" height="1.4" fill="#ff0000"/>
<rect x="55.2" y="422.9" width="4.0" height="1.2" fill="#ff0000"/>
<rect x="63.7" y="422.9" width="2.6" height="1.2" fill="#ff0000"/>
<rect x="71.4" y="422.3" width="1.5" height="1.8" fill="#ff0000"/>
<rect x="74.8" y="422.9" width="3.8" height="1.2" fill="#ff0000"/>
<rect x="84.3" y="423.3" width="3.0" height="0.8" fill="#ff0000"/>
<rect x="89.3" y="423.3" width="3.9" height="0.8" fill="#ff0000"/>
<rect x="96.1" y="423.1" width="1.1" height="1.0" fill="#ff0000"/>
<rect x="101.2" y="422.9" width="3.2" height="1.2" fill="#ff0000"/>
<rect x="110.0" y="422.9" width="3.8" height="1.2" fill="#ff0000"/>
<rect x="119.4" y="423.1" width="2.7" height="1.0" fill="#ff0000"/>
<rect x="128.9" y="423.1" width="1.3" height="1.0" fill="#ff0000"/>
<rect x="134.3" y="422.3" width="1.8" height="1.8" fill="#ff0000"/>
<rect x="139.9" y="423.1" width="2.9" height="1.0" fill="#ff0000"/>
<rect x="146.4" y="422.7" width="3.5" height="1.4" fill="#ff0000"/>
<rect x="153.1" y="422.7" width="2.8" height="1.4" fill="#ff0000"/>
<rect x="158.3" y="423.3" width="2.0" height="0.8" fill="#ff0000"/>
<rect x="166.9" y="422.3" width="4.0" height="1.8" fill="#ff0000"/>
<rect x="176.4" y="423.1" width="3.1" height="1.0" fill="#ff0000"/>
<rect x="186.7" y="422.7" width="3.7" height="1.4" fill="#ff0000"/>
<rect x="192.0" y="422.3" width="3.0" height="1.8" fill="#ff0000"/>
<rect x="201.4" y="423.1" width="2.7" height="1.0" fill="#ff0000"/>
<rect x="205.8" y="422.3" width="2.4" height="1.8" fill="#ff0000"/>
<rect x="215.7" y="423.3" width="1.3" height="0.8" fill="#ff0000"/>
<rect x="220.6" y="423.1" width="1.5" height="1.0" fill="#ff0000"/>
<rect x="225.7" y="423.3" width="2.2" height="0.8" fill="#ff0000"/>
<rect x="229.2" y="423.3" width="2.8" height="0.8" fill="#ff0000"/>
<rect x="235.4" y="422.7" width="2.8" height="1.4" fill="#ff0000"/>
<rect x="244.9" y="422.7" width="3.9" height="1.4" fill="#ff0000"/>
<rect x="251.3" y="423.3" width="1.1" height="0.8" fill="#ff0000"/>
<line x1="177.4" y1="424.8" x2="177.4" y2="317.4" stroke="#000000" stroke-width="1.2" stroke-dasharray="3.4,2.3"/>
<line x1="245.0" y1="424.8" x2="245.0" y2="277.5" stroke="#000000" stroke-width="1.2" stroke-dasharray="3.4,2.3"/>
<path d="M28.60,356.60 C28.60,356.60 61.91,357.04 75.00,357.30 C84.61,357.49 91.67,357.48 100.00,357.90 C108.34,358.32 117.81,359.25 125.00,359.80 C130.46,360.22 134.97,360.54 139.40,360.90 C143.20,361.21 145.68,361.40 150.00,361.80 C156.79,362.43 168.86,363.58 176.20,364.40 C181.54,364.99 185.32,365.36 190.00,366.10 C194.91,366.88 200.52,368.01 205.00,369.00 C208.68,369.82 211.74,370.44 215.00,371.50 C218.27,372.57 221.60,373.75 224.60,375.40 C227.60,377.05 230.43,379.58 233.00,381.40 C235.16,382.93 237.30,383.90 239.00,385.60 C240.70,387.30 242.12,389.33 243.20,391.60 C244.38,394.08 244.82,397.10 245.60,400.00 C246.43,403.09 247.22,406.30 248.00,409.60 C248.82,413.09 249.89,417.65 250.40,420.40 C250.71,422.08 251.00,424.50 251.00,424.50" fill="none" stroke="#ff80ff" stroke-width="1.5" stroke-linejoin="round"/>
<path d="M28.60,356.60 C28.60,356.60 46.83,351.74 55.00,349.70 C62.04,347.94 68.11,346.39 74.70,345.00 C81.25,343.62 87.83,342.52 94.40,341.40 C100.96,340.28 107.88,339.18 114.10,338.30 C119.68,337.51 123.83,337.03 130.00,336.30 C138.56,335.29 152.07,333.64 160.70,332.90 C166.98,332.36 171.87,332.08 177.00,331.90 C181.58,331.74 185.71,331.73 190.00,331.80 C194.21,331.87 198.22,331.93 202.50,332.30 C207.04,332.70 212.47,333.16 216.50,334.20 C219.74,335.04 222.56,336.42 225.00,337.50 C226.91,338.35 228.42,339.15 230.00,340.00 C231.47,340.79 232.78,341.47 234.20,342.40 C235.78,343.44 237.60,344.60 239.00,346.00 C240.40,347.40 241.63,348.95 242.60,350.80 C243.69,352.88 244.31,355.49 245.00,358.00 C245.73,360.67 246.17,363.35 246.80,366.40 C247.55,370.04 248.53,374.12 249.20,378.40 C249.96,383.24 250.51,388.61 251.00,394.00 C251.53,399.78 251.89,406.51 252.20,412.00 C252.46,416.63 252.80,424.80 252.80,424.80" fill="none" stroke="#ff8000" stroke-width="1.5" stroke-linejoin="round"/>
<path d="M28.60,356.60 C28.60,356.60 46.83,351.45 55.00,349.30 C62.03,347.45 68.13,346.03 74.70,344.40 C81.27,342.77 87.83,341.12 94.40,339.50 C100.96,337.88 107.89,336.24 114.10,334.70 C119.69,333.32 124.75,332.03 130.00,330.70 C135.15,329.40 140.21,328.24 145.30,326.80 C150.44,325.34 155.48,323.55 160.70,322.00 C166.05,320.41 172.35,318.84 177.00,317.40 C180.52,316.31 182.83,315.49 186.20,314.30 C190.34,312.84 195.53,310.86 200.00,309.20 C204.22,307.63 208.15,306.42 212.30,304.60 C216.77,302.64 222.20,299.90 225.90,297.70 C228.62,296.08 230.45,294.67 232.70,293.00 C235.02,291.28 237.72,289.54 239.60,287.50 C241.32,285.64 242.62,283.27 243.70,281.40 C244.55,279.93 244.94,278.84 245.70,277.30 C246.68,275.32 248.11,272.91 249.10,270.50 C250.16,267.93 251.11,265.06 251.80,262.30 C252.47,259.59 253.20,254.10 253.20,254.10" fill="none" stroke="#0000ff" stroke-width="1.5" stroke-linejoin="round"/>
<polyline points="28.6,424.5 253.4,284.0 253.4,354.4" fill="none" stroke="#000000" stroke-width="1.5" stroke-linejoin="round" />
<polyline points="28.6,424.5 35.0,424.5 35.2,414.9 36.8,413.7 39.7,410.2 40.8,409.6 51.4,408.1 63.0,407.3 66.0,405.8 81.7,405.5 85.2,403.8 98.1,403.4 99.2,398.0 103.9,391.8 107.9,391.8 113.1,390.4 131.5,390.2 138.1,386.5 143.4,385.2 148.6,381.2 152.6,379.9 155.2,377.3 160.4,376.3 163.1,373.4 168.3,372.0 176.2,369.2 177.5,364.2 180.2,355.0 184.1,351.0 188.5,349.4 193.2,344.8 195.5,338.9 213.0,337.2 216.0,334.2 216.5,327.2 218.9,324.9 225.9,323.1 235.2,322.0 238.7,317.9 242.2,316.1 242.8,308.5 244.6,307.4 244.6,302.1 250.4,301.0 252.2,298.0 252.8,290.4 253.4,288.0" fill="none" stroke="#ff0000" stroke-width="1.5" stroke-linejoin="round" />
<circle cx="110.6" cy="404.8" r="4.3" fill="none" stroke="#111" stroke-width="0.95"/>
<text x="110.6" y="408.0" font-size="7.8" fill="#000" text-anchor="middle" >1</text>
<circle cx="212.4" cy="404.0" r="4.3" fill="none" stroke="#111" stroke-width="0.95"/>
<text x="212.4" y="407.2" font-size="7.8" fill="#000" text-anchor="middle" >2</text>
<circle cx="267.3" cy="404.0" r="4.3" fill="none" stroke="#111" stroke-width="0.95"/>
<text x="267.3" y="407.2" font-size="7.8" fill="#000" text-anchor="middle" >3</text>
<line x1="28.6" y1="254.1" x2="28.6" y2="425.7" stroke="#000000" stroke-width="1.8" />
<line x1="27.7" y1="424.8" x2="282.2" y2="424.8" stroke="#000000" stroke-width="1.8" />
<line x1="282.2" y1="254.1" x2="282.2" y2="425.7" stroke="#0000ff" stroke-width="1.8" />
<line x1="310.1" y1="254.1" x2="310.1" y2="425.7" stroke="#ff0000" stroke-width="1.8" />
<line x1="28.6" y1="424.8" x2="31.9" y2="424.8" stroke="#000000" stroke-width="1.2" />
<text x="24.8" y="428.7" font-size="11.5" fill="#000" text-anchor="end"  stroke="#000" stroke-width="0.12">0</text>
<line x1="28.6" y1="390.7" x2="31.9" y2="390.7" stroke="#000000" stroke-width="1.2" />
<text x="24.8" y="394.6" font-size="11.5" fill="#000" text-anchor="end"  stroke="#000" stroke-width="0.12">20</text>
<line x1="28.6" y1="356.5" x2="31.9" y2="356.5" stroke="#000000" stroke-width="1.2" />
<text x="24.8" y="360.4" font-size="11.5" fill="#000" text-anchor="end"  stroke="#000" stroke-width="0.12">40</text>
<line x1="28.6" y1="322.4" x2="31.9" y2="322.4" stroke="#000000" stroke-width="1.2" />
<text x="24.8" y="326.3" font-size="11.5" fill="#000" text-anchor="end"  stroke="#000" stroke-width="0.12">60</text>
<line x1="28.6" y1="288.2" x2="31.9" y2="288.2" stroke="#000000" stroke-width="1.2" />
<text x="24.8" y="292.1" font-size="11.5" fill="#000" text-anchor="end"  stroke="#000" stroke-width="0.12">80</text>
<line x1="28.6" y1="254.1" x2="31.9" y2="254.1" stroke="#000000" stroke-width="1.2" />
<text x="24.8" y="258.0" font-size="11.5" fill="#000" text-anchor="end"  stroke="#000" stroke-width="0.12">100</text>
<text x="28.6" y="437.5" font-size="11.5" fill="#000" text-anchor="middle"  stroke="#000" stroke-width="0.12">0</text>
<line x1="74.8" y1="424.8" x2="74.8" y2="421.5" stroke="#000000" stroke-width="1.2" />
<text x="74.8" y="437.5" font-size="11.5" fill="#000" text-anchor="middle"  stroke="#000" stroke-width="0.12">500</text>
<line x1="121.0" y1="424.8" x2="121.0" y2="421.5" stroke="#000000" stroke-width="1.2" />
<text x="121.0" y="437.5" font-size="11.5" fill="#000" text-anchor="middle"  stroke="#000" stroke-width="0.12">1000</text>
<line x1="167.2" y1="424.8" x2="167.2" y2="421.5" stroke="#000000" stroke-width="1.2" />
<text x="167.2" y="437.5" font-size="11.5" fill="#000" text-anchor="middle"  stroke="#000" stroke-width="0.12">1500</text>
<line x1="213.4" y1="424.8" x2="213.4" y2="421.5" stroke="#000000" stroke-width="1.2" />
<text x="213.4" y="437.5" font-size="11.5" fill="#000" text-anchor="middle"  stroke="#000" stroke-width="0.12">2000</text>
<line x1="259.6" y1="424.8" x2="259.6" y2="421.5" stroke="#000000" stroke-width="1.2" />
<text x="259.6" y="437.5" font-size="11.5" fill="#000" text-anchor="middle"  stroke="#000" stroke-width="0.12">2500</text>
<line x1="282.2" y1="424.8" x2="278.9" y2="424.8" stroke="#0000ff" stroke-width="1.2" />
<text x="286.8" y="428.7" font-size="11.5" fill="#0000ff" text-anchor="start"  stroke="#0000ff" stroke-width="0.12">-10</text>
<line x1="282.2" y1="390.7" x2="278.9" y2="390.7" stroke="#0000ff" stroke-width="1.2" />
<text x="286.8" y="394.6" font-size="11.5" fill="#0000ff" text-anchor="start"  stroke="#0000ff" stroke-width="0.12">-5</text>
<line x1="282.2" y1="356.5" x2="278.9" y2="356.5" stroke="#0000ff" stroke-width="1.2" />
<text x="286.8" y="360.4" font-size="11.5" fill="#0000ff" text-anchor="start"  stroke="#0000ff" stroke-width="0.12">0</text>
<line x1="282.2" y1="322.4" x2="278.9" y2="322.4" stroke="#0000ff" stroke-width="1.2" />
<text x="286.8" y="326.3" font-size="11.5" fill="#0000ff" text-anchor="start"  stroke="#0000ff" stroke-width="0.12">5</text>
<line x1="282.2" y1="288.2" x2="278.9" y2="288.2" stroke="#0000ff" stroke-width="1.2" />
<text x="286.8" y="292.1" font-size="11.5" fill="#0000ff" text-anchor="start"  stroke="#0000ff" stroke-width="0.12">10</text>
<line x1="282.2" y1="254.1" x2="278.9" y2="254.1" stroke="#0000ff" stroke-width="1.2" />
<text x="286.8" y="258.0" font-size="11.5" fill="#0000ff" text-anchor="start"  stroke="#0000ff" stroke-width="0.12">15</text>
<line x1="310.1" y1="424.8" x2="306.8" y2="424.8" stroke="#ff0000" stroke-width="1.2" />
<text x="314.7" y="428.7" font-size="11.5" fill="#ff0000" text-anchor="start"  stroke="#ff0000" stroke-width="0.12">0</text>
<line x1="310.1" y1="367.9" x2="306.8" y2="367.9" stroke="#ff0000" stroke-width="1.2" />
<text x="314.7" y="371.8" font-size="11.5" fill="#ff0000" text-anchor="start"  stroke="#ff0000" stroke-width="0.12">1</text>
<line x1="310.1" y1="311.0" x2="306.8" y2="311.0" stroke="#ff0000" stroke-width="1.2" />
<text x="314.7" y="314.9" font-size="11.5" fill="#ff0000" text-anchor="start"  stroke="#ff0000" stroke-width="0.12">2</text>
<line x1="310.1" y1="254.1" x2="306.8" y2="254.1" stroke="#ff0000" stroke-width="1.2" />
<text x="314.7" y="258.0" font-size="11.5" fill="#ff0000" text-anchor="start"  stroke="#ff0000" stroke-width="0.12">3</text>
<text x="0" y="0" font-size="11.3" fill="#000" text-anchor="middle" transform="translate(7.8,337.6) rotate(-90)" textLength="58.5" lengthAdjust="spacingAndGlyphs"><tspan>σ</tspan><tspan dy="2.49" font-size="7.91">1</tspan><tspan dy="-2.49">- </tspan><tspan>σ</tspan><tspan dy="2.49" font-size="7.91">3</tspan><tspan dy="-2.49"> (MPa)</tspan></text>
<text x="0" y="0" font-size="11.3" fill="#0000ff" text-anchor="middle" transform="translate(302.0,337.4) rotate(-90)" textLength="67.4" lengthAdjust="spacingAndGlyphs"><tspan font-style="italic">ε</tspan><tspan dy="2.49" font-size="7.91">1</tspan><tspan dy="-2.49">, </tspan><tspan font-style="italic">ε</tspan><tspan dy="2.49" font-size="7.91">3</tspan><tspan dy="-2.49">, </tspan><tspan font-style="italic">ε</tspan><tspan dy="2.49" font-size="7.91">v</tspan><tspan dy="-2.49"> (10</tspan><tspan dy="-4.52" font-size="7.91">-3</tspan><tspan dy="4.52">)</tspan></text>
<text x="0" y="0" font-size="11.3" fill="#ff0000" text-anchor="middle" transform="translate(329.8,339.2) rotate(-90)" textLength="82.7" lengthAdjust="spacingAndGlyphs"><tspan>AE energy (10</tspan><tspan dy="-4.52" font-size="7.91">5</tspan><tspan dy="4.52">aJ)</tspan></text>
<text x="161.0" y="448.9" font-size="11.3" fill="#000" text-anchor="middle" textLength="21.0" lengthAdjust="spacingAndGlyphs"><tspan font-style="italic">T</tspan><tspan> (s)</tspan></text>
<text x="162.7" y="480.0" font-size="15.2" fill="#000" text-anchor="middle" textLength="132.3" lengthAdjust="spacingAndGlyphs"><tspan>(c) CD-3, </tspan><tspan font-style="italic">σ</tspan><tspan dy="1.52" font-size="11.40">3</tspan><tspan dy="-1.52">=20 MPa</tspan></text>
<line x1="34.2" y1="255.5" x2="53.7" y2="255.5" stroke="#000000" stroke-width="1.3" />
<text x="56.5" y="258.5" font-size="8.64" fill="#000" text-anchor="start"  stroke="#000" stroke-width="0.18"><tspan font-style="italic">σ</tspan><tspan dy="1.90" font-size="6.05">1</tspan><tspan dy="-1.90">- </tspan><tspan font-style="italic">σ</tspan><tspan dy="1.90" font-size="6.05">3</tspan></text>
<line x1="34.2" y1="269.4" x2="53.7" y2="269.4" stroke="#0000ff" stroke-width="1.3" />
<text x="56.5" y="272.4" font-size="8.64" fill="#000" text-anchor="start"  stroke="#000" stroke-width="0.18"><tspan font-style="italic">ε</tspan><tspan dy="1.90" font-size="6.05">1</tspan></text>
<line x1="34.2" y1="283.3" x2="53.7" y2="283.3" stroke="#ff80ff" stroke-width="1.3" />
<text x="56.5" y="286.3" font-size="8.64" fill="#000" text-anchor="start"  stroke="#000" stroke-width="0.18"><tspan font-style="italic">ε</tspan><tspan dy="1.90" font-size="6.05">3</tspan></text>
<line x1="34.2" y1="297.2" x2="53.7" y2="297.2" stroke="#ff8000" stroke-width="1.3" />
<text x="56.5" y="300.2" font-size="8.64" fill="#000" text-anchor="start"  stroke="#000" stroke-width="0.18"><tspan font-style="italic">ε</tspan><tspan dy="1.90" font-size="6.05">V</tspan></text>
<rect x="34.2" y="305.0" width="19.5" height="10.0" fill="#ff0000"/>
<text x="56.5" y="313.0" font-size="8.64" fill="#000" text-anchor="start"  stroke="#000" stroke-width="0.18" textLength="37.1" lengthAdjust="spacingAndGlyphs">AE energy</text>
<line x1="34.2" y1="320.8" x2="53.7" y2="320.8" stroke="#ff0000" stroke-width="1.3" />
<text x="56.5" y="323.8" font-size="8.64" fill="#000" text-anchor="start"  stroke="#000" stroke-width="0.18" textLength="82.9" lengthAdjust="spacingAndGlyphs">AE accumulated energy</text>
<rect x="467.3" y="407.9" width="2.7" height="16.8" fill="#ff0000"/>
<rect x="388.7" y="416.6" width="2.7" height="8.1" fill="#ff0000"/>
<rect x="383.0" y="420.0" width="1.0" height="4.7" fill="#ff0000"/>
<rect x="396.0" y="421.0" width="2.0" height="3.7" fill="#ff0000"/>
<rect x="402.0" y="421.5" width="2.0" height="3.2" fill="#ff0000"/>
<rect x="444.0" y="421.0" width="2.0" height="3.7" fill="#ff0000"/>
<rect x="458.0" y="421.5" width="2.0" height="3.2" fill="#ff0000"/>
<rect x="500.0" y="422.0" width="1.0" height="2.7" fill="#ff0000"/>
<rect x="540.0" y="422.0" width="1.0" height="2.7" fill="#ff0000"/>
<rect x="570.0" y="422.0" width="1.0" height="2.7" fill="#ff0000"/>
<rect x="587.0" y="421.0" width="2.5" height="3.7" fill="#ff0000"/>
<rect x="380.0" y="423.2" width="1.7" height="0.8" fill="#ff0000"/>
<rect x="391.1" y="423.2" width="2.4" height="0.8" fill="#ff0000"/>
<rect x="395.8" y="423.0" width="2.2" height="1.0" fill="#ff0000"/>
<rect x="408.3" y="423.0" width="3.3" height="1.0" fill="#ff0000"/>
<rect x="418.8" y="423.0" width="2.1" height="1.0" fill="#ff0000"/>
<rect x="431.5" y="423.2" width="1.8" height="0.8" fill="#ff0000"/>
<rect x="443.9" y="423.0" width="3.4" height="1.0" fill="#ff0000"/>
<rect x="451.0" y="422.2" width="1.9" height="1.8" fill="#ff0000"/>
<rect x="463.9" y="423.0" width="3.9" height="1.0" fill="#ff0000"/>
<rect x="470.3" y="422.2" width="2.8" height="1.8" fill="#ff0000"/>
<rect x="478.9" y="423.0" width="1.7" height="1.0" fill="#ff0000"/>
<rect x="487.3" y="422.6" width="1.3" height="1.4" fill="#ff0000"/>
<rect x="499.3" y="423.0" width="1.0" height="1.0" fill="#ff0000"/>
<rect x="508.1" y="422.6" width="3.6" height="1.4" fill="#ff0000"/>
<rect x="515.4" y="423.0" width="2.3" height="1.0" fill="#ff0000"/>
<rect x="524.0" y="423.0" width="1.5" height="1.0" fill="#ff0000"/>
<rect x="529.8" y="423.2" width="3.4" height="0.8" fill="#ff0000"/>
<rect x="535.2" y="423.0" width="2.9" height="1.0" fill="#ff0000"/>
<rect x="545.3" y="422.2" width="2.9" height="1.8" fill="#ff0000"/>
<rect x="553.5" y="423.0" width="4.0" height="1.0" fill="#ff0000"/>
<rect x="559.7" y="422.2" width="3.7" height="1.8" fill="#ff0000"/>
<rect x="571.9" y="423.0" width="1.8" height="1.0" fill="#ff0000"/>
<rect x="580.0" y="422.2" width="2.8" height="1.8" fill="#ff0000"/>
<line x1="468.1" y1="424.7" x2="468.1" y2="329.4" stroke="#555" stroke-width="1.5" stroke-dasharray="4,2.6"/>
<line x1="555.4" y1="424.7" x2="555.4" y2="291.2" stroke="#555" stroke-width="1.5" stroke-dasharray="4,2.6"/>
<path d="M379.30,356.60 C379.30,356.60 410.69,357.33 424.90,357.80 C437.37,358.21 448.32,358.42 460.00,359.20 C471.69,359.98 484.51,361.31 495.00,362.50 C503.59,363.47 510.78,364.27 518.40,365.60 C525.77,366.89 534.17,369.05 540.00,370.30 C543.97,371.15 546.74,371.45 550.00,372.40 C553.27,373.35 556.56,374.57 559.60,376.00 C562.55,377.39 565.38,378.98 568.00,380.80 C570.58,382.59 573.13,384.69 575.20,386.80 C577.07,388.71 578.61,390.63 580.00,392.80 C581.42,395.02 582.61,397.46 583.60,400.00 C584.63,402.65 585.35,405.58 586.00,408.40 C586.64,411.18 587.13,414.06 587.50,416.80 C587.85,419.39 588.20,424.40 588.20,424.40" fill="none" stroke="#ff80ff" stroke-width="1.5" stroke-linejoin="round"/>
<path d="M379.30,356.60 C379.30,356.60 392.73,351.97 400.00,350.00 C407.90,347.86 416.66,346.17 425.00,344.40 C433.32,342.64 443.55,340.75 450.00,339.40 C454.09,338.54 455.95,337.91 460.00,337.20 C466.15,336.12 475.61,335.20 483.40,334.10 C491.18,333.00 498.93,331.75 506.70,330.60 C514.47,329.45 523.68,327.89 530.00,327.20 C534.31,326.73 537.03,326.39 540.90,326.40 C545.32,326.41 550.73,326.59 555.10,327.50 C559.03,328.32 562.79,329.64 566.00,331.30 C568.91,332.81 571.56,335.01 573.70,336.80 C575.40,338.23 576.63,339.39 578.00,341.00 C579.54,342.81 581.15,344.74 582.40,347.20 C583.93,350.21 585.10,354.26 586.00,358.00 C586.92,361.86 587.32,365.59 587.80,370.00 C588.38,375.38 588.70,382.00 589.00,388.00 C589.30,394.00 589.45,399.97 589.60,406.00 C589.75,412.10 589.90,424.40 589.90,424.40" fill="none" stroke="#ff8000" stroke-width="1.5" stroke-linejoin="round"/>
<path d="M379.30,356.60 C379.30,356.60 392.77,352.46 400.00,350.30 C407.93,347.93 416.68,345.51 425.00,343.00 C433.34,340.48 442.35,337.62 450.00,335.20 C456.50,333.14 461.92,331.54 468.00,329.40 C474.35,327.16 481.52,324.06 487.30,322.00 C491.95,320.34 495.60,319.32 500.00,317.80 C504.80,316.14 510.04,314.43 515.00,312.40 C520.04,310.34 525.31,307.84 530.00,305.50 C534.26,303.37 537.91,301.30 542.00,299.00 C546.36,296.55 551.34,293.71 555.40,291.20 C558.90,289.04 561.87,287.37 565.00,284.90 C568.42,282.20 572.05,278.82 575.00,275.50 C577.81,272.34 580.41,269.08 582.40,265.50 C584.37,261.94 586.90,254.10 586.90,254.10" fill="none" stroke="#0000ff" stroke-width="1.5" stroke-linejoin="round"/>
<polyline points="380.0,424.4 589.9,276.7 589.9,317.4" fill="none" stroke="#000000" stroke-width="1.5" stroke-linejoin="round" />
<polyline points="379.3,424.4 380.0,423.3 382.0,418.0 384.7,416.6 388.7,411.3 390.8,401.9 396.1,400.5 396.8,398.5 402.8,397.2 404.9,394.5 418.3,393.8 443.8,393.1 445.2,390.4 451.9,389.8 458.6,387.8 463.3,384.4 465.3,383.1 466.6,375.0 467.4,370.0 468.2,366.8 471.7,366.2 477.5,365.0 488.0,364.1 493.9,362.7 497.4,358.6 503.2,358.0 507.9,355.5 520.7,354.5 525.4,351.6 532.4,350.8 534.7,348.5 540.0,347.8 546.4,346.8 551.8,345.5 554.6,343.3 555.7,340.6 560.6,341.2 562.8,339.8 568.2,338.4 571.5,336.8 578.0,335.7 581.3,333.5 586.8,333.0 587.9,329.7 588.4,325.9 590.1,321.5" fill="none" stroke="#ff0000" stroke-width="1.5" stroke-linejoin="round" />
<circle cx="435.4" cy="402.8" r="4.3" fill="none" stroke="#111" stroke-width="0.95"/>
<text x="435.4" y="406.0" font-size="7.8" fill="#000" text-anchor="middle" >1</text>
<circle cx="514.4" cy="402.8" r="4.3" fill="none" stroke="#111" stroke-width="0.95"/>
<text x="514.4" y="406.0" font-size="7.8" fill="#000" text-anchor="middle" >2</text>
<circle cx="601.1" cy="402.8" r="4.3" fill="none" stroke="#111" stroke-width="0.95"/>
<text x="601.1" y="406.0" font-size="7.8" fill="#000" text-anchor="middle" >3</text>
<line x1="379.3" y1="254.1" x2="379.3" y2="425.6" stroke="#000000" stroke-width="1.8" />
<line x1="378.4" y1="424.7" x2="627.1" y2="424.7" stroke="#000000" stroke-width="1.8" />
<line x1="627.1" y1="254.1" x2="627.1" y2="425.6" stroke="#0000ff" stroke-width="1.8" />
<line x1="653.2" y1="254.1" x2="653.2" y2="425.6" stroke="#ff0000" stroke-width="1.8" />
<line x1="379.3" y1="424.7" x2="382.6" y2="424.7" stroke="#000000" stroke-width="1.2" />
<text x="375.5" y="428.6" font-size="11.5" fill="#000" text-anchor="end"  stroke="#000" stroke-width="0.12">0</text>
<line x1="379.3" y1="390.6" x2="382.6" y2="390.6" stroke="#000000" stroke-width="1.2" />
<text x="375.5" y="394.5" font-size="11.5" fill="#000" text-anchor="end"  stroke="#000" stroke-width="0.12">20</text>
<line x1="379.3" y1="356.5" x2="382.6" y2="356.5" stroke="#000000" stroke-width="1.2" />
<text x="375.5" y="360.4" font-size="11.5" fill="#000" text-anchor="end"  stroke="#000" stroke-width="0.12">40</text>
<line x1="379.3" y1="322.3" x2="382.6" y2="322.3" stroke="#000000" stroke-width="1.2" />
<text x="375.5" y="326.2" font-size="11.5" fill="#000" text-anchor="end"  stroke="#000" stroke-width="0.12">60</text>
<line x1="379.3" y1="288.2" x2="382.6" y2="288.2" stroke="#000000" stroke-width="1.2" />
<text x="375.5" y="292.1" font-size="11.5" fill="#000" text-anchor="end"  stroke="#000" stroke-width="0.12">80</text>
<line x1="379.3" y1="254.1" x2="382.6" y2="254.1" stroke="#000000" stroke-width="1.2" />
<text x="375.5" y="258.0" font-size="11.5" fill="#000" text-anchor="end"  stroke="#000" stroke-width="0.12">100</text>
<text x="379.3" y="437.5" font-size="11.5" fill="#000" text-anchor="middle"  stroke="#000" stroke-width="0.12">0</text>
<line x1="420.5" y1="424.7" x2="420.5" y2="421.4" stroke="#000000" stroke-width="1.2" />
<text x="420.5" y="437.5" font-size="11.5" fill="#000" text-anchor="middle"  stroke="#000" stroke-width="0.12">500</text>
<line x1="461.7" y1="424.7" x2="461.7" y2="421.4" stroke="#000000" stroke-width="1.2" />
<text x="461.7" y="437.5" font-size="11.5" fill="#000" text-anchor="middle"  stroke="#000" stroke-width="0.12">1000</text>
<line x1="502.9" y1="424.7" x2="502.9" y2="421.4" stroke="#000000" stroke-width="1.2" />
<text x="502.9" y="437.5" font-size="11.5" fill="#000" text-anchor="middle"  stroke="#000" stroke-width="0.12">1500</text>
<line x1="544.1" y1="424.7" x2="544.1" y2="421.4" stroke="#000000" stroke-width="1.2" />
<text x="544.1" y="437.5" font-size="11.5" fill="#000" text-anchor="middle"  stroke="#000" stroke-width="0.12">2000</text>
<line x1="585.3" y1="424.7" x2="585.3" y2="421.4" stroke="#000000" stroke-width="1.2" />
<text x="585.3" y="437.5" font-size="11.5" fill="#000" text-anchor="middle"  stroke="#000" stroke-width="0.12">2500</text>
<line x1="626.5" y1="424.7" x2="626.5" y2="421.4" stroke="#000000" stroke-width="1.2" />
<text x="626.5" y="437.5" font-size="11.5" fill="#000" text-anchor="middle"  stroke="#000" stroke-width="0.12">3000</text>
<line x1="627.1" y1="424.7" x2="623.8" y2="424.7" stroke="#0000ff" stroke-width="1.2" />
<text x="631.7" y="428.6" font-size="11.5" fill="#0000ff" text-anchor="start"  stroke="#0000ff" stroke-width="0.12">-10</text>
<line x1="627.1" y1="390.6" x2="623.8" y2="390.6" stroke="#0000ff" stroke-width="1.2" />
<text x="631.7" y="394.5" font-size="11.5" fill="#0000ff" text-anchor="start"  stroke="#0000ff" stroke-width="0.12">-5</text>
<line x1="627.1" y1="356.5" x2="623.8" y2="356.5" stroke="#0000ff" stroke-width="1.2" />
<text x="631.7" y="360.4" font-size="11.5" fill="#0000ff" text-anchor="start"  stroke="#0000ff" stroke-width="0.12">0</text>
<line x1="627.1" y1="322.3" x2="623.8" y2="322.3" stroke="#0000ff" stroke-width="1.2" />
<text x="631.7" y="326.2" font-size="11.5" fill="#0000ff" text-anchor="start"  stroke="#0000ff" stroke-width="0.12">5</text>
<line x1="627.1" y1="288.2" x2="623.8" y2="288.2" stroke="#0000ff" stroke-width="1.2" />
<text x="631.7" y="292.1" font-size="11.5" fill="#0000ff" text-anchor="start"  stroke="#0000ff" stroke-width="0.12">10</text>
<line x1="627.1" y1="254.1" x2="623.8" y2="254.1" stroke="#0000ff" stroke-width="1.2" />
<text x="631.7" y="258.0" font-size="11.5" fill="#0000ff" text-anchor="start"  stroke="#0000ff" stroke-width="0.12">15</text>
<line x1="653.2" y1="424.7" x2="649.9" y2="424.7" stroke="#ff0000" stroke-width="1.2" />
<text x="657.8" y="428.6" font-size="11.5" fill="#ff0000" text-anchor="start"  stroke="#ff0000" stroke-width="0.12">0</text>
<line x1="653.2" y1="367.8" x2="649.9" y2="367.8" stroke="#ff0000" stroke-width="1.2" />
<text x="657.8" y="371.7" font-size="11.5" fill="#ff0000" text-anchor="start"  stroke="#ff0000" stroke-width="0.12">1</text>
<line x1="653.2" y1="311.0" x2="649.9" y2="311.0" stroke="#ff0000" stroke-width="1.2" />
<text x="657.8" y="314.9" font-size="11.5" fill="#ff0000" text-anchor="start"  stroke="#ff0000" stroke-width="0.12">2</text>
<line x1="653.2" y1="254.1" x2="649.9" y2="254.1" stroke="#ff0000" stroke-width="1.2" />
<text x="657.8" y="258.0" font-size="11.5" fill="#ff0000" text-anchor="start"  stroke="#ff0000" stroke-width="0.12">3</text>
<text x="0" y="0" font-size="11.3" fill="#000" text-anchor="middle" transform="translate(360.9,338.4) rotate(-90)" textLength="57.3" lengthAdjust="spacingAndGlyphs"><tspan>σ</tspan><tspan dy="2.49" font-size="7.91">1</tspan><tspan dy="-2.49">- </tspan><tspan>σ</tspan><tspan dy="2.49" font-size="7.91">3</tspan><tspan dy="-2.49"> (MPa)</tspan></text>
<text x="0" y="0" font-size="11.3" fill="#0000ff" text-anchor="middle" transform="translate(645.5,336.7) rotate(-90)" textLength="67.9" lengthAdjust="spacingAndGlyphs"><tspan font-style="italic">ε</tspan><tspan dy="2.49" font-size="7.91">1</tspan><tspan dy="-2.49">, </tspan><tspan font-style="italic">ε</tspan><tspan dy="2.49" font-size="7.91">3</tspan><tspan dy="-2.49">, </tspan><tspan font-style="italic">ε</tspan><tspan dy="2.49" font-size="7.91">v</tspan><tspan dy="-2.49"> (10</tspan><tspan dy="-4.52" font-size="7.91">-3</tspan><tspan dy="4.52">)</tspan></text>
<text x="0" y="0" font-size="11.3" fill="#ff0000" text-anchor="middle" transform="translate(673.6,340.2) rotate(-90)" textLength="80.8" lengthAdjust="spacingAndGlyphs"><tspan>AE energy (10</tspan><tspan dy="-4.52" font-size="7.91">5</tspan><tspan dy="4.52">aJ)</tspan></text>
<text x="515.2" y="448.8" font-size="11.3" fill="#000" text-anchor="middle" textLength="20.3" lengthAdjust="spacingAndGlyphs"><tspan font-style="italic">T</tspan><tspan> (s)</tspan></text>
<text x="513.0" y="479.8" font-size="15.2" fill="#000" text-anchor="middle" textLength="132.8" lengthAdjust="spacingAndGlyphs"><tspan>(d) CD-4, </tspan><tspan font-style="italic">σ</tspan><tspan dy="1.52" font-size="11.40">3</tspan><tspan dy="-1.52">=30 MPa</tspan></text>
<line x1="386.0" y1="253.7" x2="404.7" y2="253.7" stroke="#000000" stroke-width="1.3" />
<text x="407.5" y="256.7" font-size="8.34" fill="#000" text-anchor="start"  stroke="#000" stroke-width="0.18"><tspan font-style="italic">σ</tspan><tspan dy="1.83" font-size="5.84">1</tspan><tspan dy="-1.83">- </tspan><tspan font-style="italic">σ</tspan><tspan dy="1.83" font-size="5.84">3</tspan></text>
<line x1="386.0" y1="267.1" x2="404.7" y2="267.1" stroke="#0000ff" stroke-width="1.3" />
<text x="407.5" y="270.1" font-size="8.34" fill="#000" text-anchor="start"  stroke="#000" stroke-width="0.18"><tspan font-style="italic">ε</tspan><tspan dy="1.83" font-size="5.84">1</tspan></text>
<line x1="386.0" y1="280.5" x2="404.7" y2="280.5" stroke="#ff80ff" stroke-width="1.3" />
<text x="407.5" y="283.5" font-size="8.34" fill="#000" text-anchor="start"  stroke="#000" stroke-width="0.18"><tspan font-style="italic">ε</tspan><tspan dy="1.83" font-size="5.84">3</tspan></text>
<line x1="386.0" y1="293.9" x2="404.7" y2="293.9" stroke="#ff8000" stroke-width="1.3" />
<text x="407.5" y="296.9" font-size="8.34" fill="#000" text-anchor="start"  stroke="#000" stroke-width="0.18"><tspan font-style="italic">ε</tspan><tspan dy="1.83" font-size="5.84">V</tspan></text>
<rect x="386.0" y="301.7" width="18.7" height="10.0" fill="#ff0000"/>
<text x="407.5" y="309.7" font-size="8.34" fill="#000" text-anchor="start"  stroke="#000" stroke-width="0.18" textLength="35.8" lengthAdjust="spacingAndGlyphs">AE energy</text>
<line x1="386.0" y1="317.5" x2="404.7" y2="317.5" stroke="#ff0000" stroke-width="1.3" />
<text x="407.5" y="320.5" font-size="8.34" fill="#000" text-anchor="start"  stroke="#000" stroke-width="0.18" textLength="80.0" lengthAdjust="spacingAndGlyphs">AE accumulated energy</text>
<rect x="434.8" y="669.0" width="1.4" height="5.4" fill="#ff0000"/>
<rect x="300.0" y="671.0" width="1.0" height="3.4" fill="#ff0000"/>
<rect x="235.0" y="671.5" width="1.0" height="2.9" fill="#ff0000"/>
<rect x="260.0" y="671.0" width="1.0" height="3.4" fill="#ff0000"/>
<rect x="330.0" y="671.0" width="1.0" height="3.4" fill="#ff0000"/>
<rect x="360.0" y="671.0" width="1.0" height="3.4" fill="#ff0000"/>
<rect x="400.0" y="671.0" width="1.0" height="3.4" fill="#ff0000"/>
<rect x="420.0" y="671.0" width="1.0" height="3.4" fill="#ff0000"/>
<rect x="199.0" y="671.9" width="2.9" height="1.8" fill="#ff0000"/>
<rect x="204.6" y="671.9" width="3.1" height="1.8" fill="#ff0000"/>
<rect x="212.0" y="672.5" width="2.6" height="1.2" fill="#ff0000"/>
<rect x="219.6" y="672.9" width="1.7" height="0.8" fill="#ff0000"/>
<rect x="227.1" y="672.5" width="1.3" height="1.2" fill="#ff0000"/>
<rect x="233.9" y="672.9" width="2.1" height="0.8" fill="#ff0000"/>
<rect x="240.0" y="672.7" width="1.0" height="1.0" fill="#ff0000"/>
<rect x="244.0" y="672.5" width="1.5" height="1.2" fill="#ff0000"/>
<rect x="247.2" y="672.7" width="3.4" height="1.0" fill="#ff0000"/>
<rect x="254.7" y="672.7" width="2.3" height="1.0" fill="#ff0000"/>
<rect x="257.8" y="672.7" width="3.6" height="1.0" fill="#ff0000"/>
<rect x="266.4" y="672.7" width="3.9" height="1.0" fill="#ff0000"/>
<rect x="275.9" y="672.7" width="1.9" height="1.0" fill="#ff0000"/>
<rect x="281.4" y="672.7" width="3.0" height="1.0" fill="#ff0000"/>
<rect x="286.2" y="672.7" width="3.9" height="1.0" fill="#ff0000"/>
<rect x="296.2" y="672.7" width="3.7" height="1.0" fill="#ff0000"/>
<rect x="300.8" y="672.7" width="2.2" height="1.0" fill="#ff0000"/>
<rect x="305.2" y="672.3" width="2.0" height="1.4" fill="#ff0000"/>
<rect x="311.2" y="671.9" width="2.8" height="1.8" fill="#ff0000"/>
<rect x="316.6" y="672.7" width="1.9" height="1.0" fill="#ff0000"/>
<rect x="321.9" y="672.5" width="1.9" height="1.2" fill="#ff0000"/>
<rect x="327.2" y="672.7" width="1.5" height="1.0" fill="#ff0000"/>
<rect x="334.8" y="671.9" width="1.1" height="1.8" fill="#ff0000"/>
<rect x="338.6" y="672.3" width="2.2" height="1.4" fill="#ff0000"/>
<rect x="345.9" y="672.3" width="2.1" height="1.4" fill="#ff0000"/>
<rect x="353.4" y="671.9" width="2.4" height="1.8" fill="#ff0000"/>
<rect x="357.5" y="672.7" width="3.9" height="1.0" fill="#ff0000"/>
<rect x="362.8" y="672.5" width="1.7" height="1.2" fill="#ff0000"/>
<rect x="367.1" y="672.3" width="2.1" height="1.4" fill="#ff0000"/>
<rect x="371.3" y="672.3" width="2.4" height="1.4" fill="#ff0000"/>
<rect x="378.6" y="672.7" width="3.4" height="1.0" fill="#ff0000"/>
<rect x="382.9" y="672.9" width="3.8" height="0.8" fill="#ff0000"/>
<rect x="388.7" y="672.7" width="2.5" height="1.0" fill="#ff0000"/>
<rect x="397.0" y="671.9" width="2.0" height="1.8" fill="#ff0000"/>
<rect x="402.8" y="672.7" width="1.9" height="1.0" fill="#ff0000"/>
<rect x="407.1" y="671.9" width="3.4" height="1.8" fill="#ff0000"/>
<rect x="412.1" y="672.5" width="3.1" height="1.2" fill="#ff0000"/>
<rect x="416.8" y="672.3" width="1.1" height="1.4" fill="#ff0000"/>
<rect x="421.6" y="672.7" width="2.2" height="1.0" fill="#ff0000"/>
<rect x="428.7" y="672.7" width="2.0" height="1.0" fill="#ff0000"/>
<rect x="434.0" y="672.9" width="2.0" height="0.8" fill="#ff0000"/>
<line x1="325.0" y1="674.4" x2="325.0" y2="592.9" stroke="#555" stroke-width="1.5" stroke-dasharray="4,2.6"/>
<line x1="415.3" y1="674.4" x2="415.3" y2="520.0" stroke="#000000" stroke-width="1.2" stroke-dasharray="3.4,2.3"/>
<path d="M198.00,617.40 C198.00,617.40 219.15,618.07 231.00,618.50 C244.84,619.01 263.34,619.73 276.00,620.30 C285.25,620.72 292.37,621.08 300.00,621.50 C306.97,621.88 312.88,622.20 320.00,622.70 C328.17,623.27 338.44,623.90 346.30,624.80 C352.74,625.53 359.46,626.59 363.80,627.40 C366.40,627.89 367.30,628.19 370.00,628.80 C375.06,629.95 387.79,632.65 391.80,633.80 C393.36,634.25 393.68,634.38 395.00,634.90 C397.22,635.77 401.40,637.65 403.80,638.80 C405.50,639.61 406.55,639.99 408.10,641.00 C410.22,642.38 412.85,644.82 415.10,646.70 C417.24,648.49 419.51,650.10 421.30,652.00 C422.98,653.78 424.28,655.73 425.60,657.70 C426.91,659.66 428.25,661.64 429.20,663.80 C430.16,666.00 430.76,668.85 431.30,670.80 C431.68,672.19 432.20,674.40 432.20,674.40" fill="none" stroke="#ff80ff" stroke-width="1.5" stroke-linejoin="round"/>
<path d="M198.00,617.40 C198.00,617.40 211.85,614.40 219.40,613.00 C227.82,611.44 237.03,610.08 246.20,608.60 C255.87,607.04 270.68,604.85 276.00,603.90 C277.96,603.55 278.05,603.46 280.00,603.10 C285.25,602.14 301.82,599.14 309.20,598.30 C313.66,597.79 315.62,597.99 320.00,597.60 C326.85,596.99 337.54,595.60 346.30,594.60 C355.04,593.60 366.18,592.15 372.50,591.60 C376.07,591.29 377.63,591.14 380.90,591.10 C385.46,591.05 392.44,590.89 397.30,591.70 C401.35,592.38 404.95,593.62 408.20,595.00 C411.06,596.22 413.52,597.65 415.90,599.30 C418.24,600.92 420.44,602.68 422.40,604.80 C424.46,607.02 426.54,609.71 427.90,612.40 C429.20,614.96 429.75,617.67 430.50,620.50 C431.30,623.52 432.02,626.70 432.50,630.00 C433.01,633.52 433.16,637.11 433.40,641.00 C433.67,645.38 433.88,649.95 434.00,655.00 C434.14,660.94 434.10,674.40 434.10,674.40" fill="none" stroke="#ff8000" stroke-width="1.5" stroke-linejoin="round"/>
<path d="M198.00,617.40 C198.00,617.40 211.85,614.22 219.40,612.70 C227.82,611.01 237.08,609.89 246.20,607.80 C255.92,605.58 267.25,602.14 276.00,599.60 C282.94,597.58 288.74,595.38 294.60,593.90 C299.73,592.61 304.35,592.10 309.20,591.00 C314.08,589.90 318.95,588.68 323.80,587.30 C328.69,585.91 334.94,583.72 338.40,582.70 C340.29,582.15 341.07,582.16 342.80,581.50 C345.54,580.45 349.25,578.03 353.00,576.40 C357.38,574.50 362.99,573.02 367.60,571.00 C371.96,569.09 376.07,566.62 380.00,564.70 C383.50,562.99 386.69,561.68 390.00,560.00 C393.36,558.29 396.73,556.75 400.00,554.50 C403.61,552.01 407.96,548.10 410.60,545.50 C412.37,543.76 413.26,542.13 414.70,540.80 C416.00,539.60 417.57,538.86 418.80,537.80 C419.95,536.82 420.86,535.97 421.90,534.70 C423.25,533.06 424.77,530.56 426.00,528.60 C427.11,526.84 428.14,525.23 429.00,523.50 C429.83,521.83 430.50,520.12 431.10,518.40 C431.69,516.72 432.26,515.27 432.60,513.30 C433.05,510.70 433.10,504.10 433.10,504.10" fill="none" stroke="#0000ff" stroke-width="1.5" stroke-linejoin="round"/>
<polyline points="198.0,674.4 433.6,513.5 434.1,535.0" fill="none" stroke="#000000" stroke-width="1.5" stroke-linejoin="round" />
<line x1="411.0" y1="526.8" x2="411.2" y2="531.1" stroke="#000000" stroke-width="0.9" />
<line x1="397.7" y1="536.8" x2="397.6" y2="539.2" stroke="#000000" stroke-width="0.9" />
<line x1="403.0" y1="532.1" x2="403.2" y2="536.8" stroke="#000000" stroke-width="0.9" />
<line x1="416.1" y1="523.5" x2="416.3" y2="527.5" stroke="#000000" stroke-width="0.9" />
<line x1="397.8" y1="536.1" x2="397.4" y2="539.8" stroke="#000000" stroke-width="0.9" />
<line x1="428.2" y1="515.9" x2="428.6" y2="518.4" stroke="#000000" stroke-width="0.9" />
<line x1="395.0" y1="537.7" x2="394.8" y2="542.0" stroke="#000000" stroke-width="0.9" />
<line x1="408.2" y1="528.5" x2="407.6" y2="533.2" stroke="#000000" stroke-width="0.9" />
<line x1="394.4" y1="537.8" x2="394.4" y2="542.7" stroke="#000000" stroke-width="0.9" />
<line x1="395.6" y1="536.8" x2="396.2" y2="542.0" stroke="#000000" stroke-width="0.9" />
<line x1="396.5" y1="537.0" x2="396.1" y2="540.6" stroke="#000000" stroke-width="0.9" />
<line x1="404.5" y1="531.3" x2="404.1" y2="535.4" stroke="#000000" stroke-width="0.9" />
<polyline points="198.0,674.4 210.0,671.5 220.0,669.8 230.0,668.6 237.3,666.9 249.0,664.2 250.4,662.8 257.7,661.3 259.2,659.6 263.6,659.1 266.5,651.8 273.8,648.9 281.1,646.7 284.0,643.8 288.4,642.3 300.1,640.9 302.3,638.7 310.3,637.7 313.2,635.0 320.0,632.7 328.8,630.5 333.1,627.9 336.2,626.2 337.5,621.8 342.8,620.9 348.0,618.3 351.5,614.8 352.8,611.7 356.8,608.2 357.7,605.6 360.7,605.1 361.6,599.0 365.5,596.8 370.8,593.0 383.1,587.3 397.3,584.0 413.7,579.1 415.9,576.4 421.3,573.1 423.5,569.8 427.9,567.6 430.1,564.4 431.2,560.0 432.0,552.0 432.8,537.4 433.6,520.4 435.2,513.3 436.2,508.2" fill="none" stroke="#ff0000" stroke-width="1.5" stroke-linejoin="round" />
<circle cx="257.4" cy="647.8" r="4.3" fill="none" stroke="#111" stroke-width="0.95"/>
<text x="257.4" y="651.0" font-size="7.8" fill="#000" text-anchor="middle" >1</text>
<circle cx="372.4" cy="647.3" r="4.3" fill="none" stroke="#111" stroke-width="0.95"/>
<text x="372.4" y="650.5" font-size="7.8" fill="#000" text-anchor="middle" >2</text>
<circle cx="441.0" cy="647.3" r="4.3" fill="none" stroke="#111" stroke-width="0.95"/>
<text x="441.0" y="650.5" font-size="7.8" fill="#000" text-anchor="middle" >3</text>
<line x1="198.0" y1="503.9" x2="198.0" y2="675.3" stroke="#000000" stroke-width="1.8" />
<line x1="197.1" y1="674.4" x2="452.7" y2="674.4" stroke="#000000" stroke-width="1.8" />
<line x1="452.7" y1="503.9" x2="452.7" y2="675.3" stroke="#0000ff" stroke-width="1.8" />
<line x1="485.6" y1="503.9" x2="485.6" y2="675.3" stroke="#ff0000" stroke-width="1.8" />
<line x1="198.0" y1="674.4" x2="201.3" y2="674.4" stroke="#000000" stroke-width="1.2" />
<text x="194.2" y="678.3" font-size="11.5" fill="#000" text-anchor="end"  stroke="#000" stroke-width="0.12">0</text>
<line x1="198.0" y1="640.3" x2="201.3" y2="640.3" stroke="#000000" stroke-width="1.2" />
<text x="194.2" y="644.2" font-size="11.5" fill="#000" text-anchor="end"  stroke="#000" stroke-width="0.12">20</text>
<line x1="198.0" y1="606.2" x2="201.3" y2="606.2" stroke="#000000" stroke-width="1.2" />
<text x="194.2" y="610.1" font-size="11.5" fill="#000" text-anchor="end"  stroke="#000" stroke-width="0.12">40</text>
<line x1="198.0" y1="572.1" x2="201.3" y2="572.1" stroke="#000000" stroke-width="1.2" />
<text x="194.2" y="576.0" font-size="11.5" fill="#000" text-anchor="end"  stroke="#000" stroke-width="0.12">60</text>
<line x1="198.0" y1="538.0" x2="201.3" y2="538.0" stroke="#000000" stroke-width="1.2" />
<text x="194.2" y="541.9" font-size="11.5" fill="#000" text-anchor="end"  stroke="#000" stroke-width="0.12">80</text>
<line x1="198.0" y1="503.9" x2="201.3" y2="503.9" stroke="#000000" stroke-width="1.2" />
<text x="194.2" y="507.8" font-size="11.5" fill="#000" text-anchor="end"  stroke="#000" stroke-width="0.12">100</text>
<text x="198.0" y="687.5" font-size="11.5" fill="#000" text-anchor="middle"  stroke="#000" stroke-width="0.12">0</text>
<line x1="240.4" y1="674.4" x2="240.4" y2="671.1" stroke="#000000" stroke-width="1.2" />
<text x="240.4" y="687.5" font-size="11.5" fill="#000" text-anchor="middle"  stroke="#000" stroke-width="0.12">500</text>
<line x1="282.9" y1="674.4" x2="282.9" y2="671.1" stroke="#000000" stroke-width="1.2" />
<text x="282.9" y="687.5" font-size="11.5" fill="#000" text-anchor="middle"  stroke="#000" stroke-width="0.12">1000</text>
<line x1="325.4" y1="674.4" x2="325.4" y2="671.1" stroke="#000000" stroke-width="1.2" />
<text x="325.4" y="687.5" font-size="11.5" fill="#000" text-anchor="middle"  stroke="#000" stroke-width="0.12">1500</text>
<line x1="367.8" y1="674.4" x2="367.8" y2="671.1" stroke="#000000" stroke-width="1.2" />
<text x="367.8" y="687.5" font-size="11.5" fill="#000" text-anchor="middle"  stroke="#000" stroke-width="0.12">2000</text>
<line x1="410.2" y1="674.4" x2="410.2" y2="671.1" stroke="#000000" stroke-width="1.2" />
<text x="410.2" y="687.5" font-size="11.5" fill="#000" text-anchor="middle"  stroke="#000" stroke-width="0.12">2500</text>
<line x1="452.7" y1="674.4" x2="452.7" y2="671.1" stroke="#000000" stroke-width="1.2" />
<text x="452.7" y="687.5" font-size="11.5" fill="#000" text-anchor="middle"  stroke="#000" stroke-width="0.12">3000</text>
<line x1="452.7" y1="674.4" x2="449.4" y2="674.4" stroke="#0000ff" stroke-width="1.2" />
<text x="457.3" y="678.3" font-size="11.5" fill="#0000ff" text-anchor="start"  stroke="#0000ff" stroke-width="0.12">-10</text>
<line x1="452.7" y1="646.0" x2="449.4" y2="646.0" stroke="#0000ff" stroke-width="1.2" />
<text x="457.3" y="649.9" font-size="11.5" fill="#0000ff" text-anchor="start"  stroke="#0000ff" stroke-width="0.12">-5</text>
<line x1="452.7" y1="617.6" x2="449.4" y2="617.6" stroke="#0000ff" stroke-width="1.2" />
<text x="457.3" y="621.5" font-size="11.5" fill="#0000ff" text-anchor="start"  stroke="#0000ff" stroke-width="0.12">0</text>
<line x1="452.7" y1="589.1" x2="449.4" y2="589.1" stroke="#0000ff" stroke-width="1.2" />
<text x="457.3" y="593.0" font-size="11.5" fill="#0000ff" text-anchor="start"  stroke="#0000ff" stroke-width="0.12">5</text>
<line x1="452.7" y1="560.7" x2="449.4" y2="560.7" stroke="#0000ff" stroke-width="1.2" />
<text x="457.3" y="564.6" font-size="11.5" fill="#0000ff" text-anchor="start"  stroke="#0000ff" stroke-width="0.12">10</text>
<line x1="452.7" y1="532.3" x2="449.4" y2="532.3" stroke="#0000ff" stroke-width="1.2" />
<text x="457.3" y="536.2" font-size="11.5" fill="#0000ff" text-anchor="start"  stroke="#0000ff" stroke-width="0.12">15</text>
<line x1="452.7" y1="503.9" x2="449.4" y2="503.9" stroke="#0000ff" stroke-width="1.2" />
<text x="457.3" y="507.8" font-size="11.5" fill="#0000ff" text-anchor="start"  stroke="#0000ff" stroke-width="0.12">20</text>
<line x1="485.6" y1="674.4" x2="482.3" y2="674.4" stroke="#ff0000" stroke-width="1.2" />
<text x="490.2" y="678.3" font-size="11.5" fill="#ff0000" text-anchor="start"  stroke="#ff0000" stroke-width="0.12">0</text>
<line x1="485.6" y1="646.0" x2="482.3" y2="646.0" stroke="#ff0000" stroke-width="1.2" />
<text x="490.2" y="649.9" font-size="11.5" fill="#ff0000" text-anchor="start"  stroke="#ff0000" stroke-width="0.12">2</text>
<line x1="485.6" y1="617.6" x2="482.3" y2="617.6" stroke="#ff0000" stroke-width="1.2" />
<text x="490.2" y="621.5" font-size="11.5" fill="#ff0000" text-anchor="start"  stroke="#ff0000" stroke-width="0.12">4</text>
<line x1="485.6" y1="589.1" x2="482.3" y2="589.1" stroke="#ff0000" stroke-width="1.2" />
<text x="490.2" y="593.0" font-size="11.5" fill="#ff0000" text-anchor="start"  stroke="#ff0000" stroke-width="0.12">6</text>
<line x1="485.6" y1="560.7" x2="482.3" y2="560.7" stroke="#ff0000" stroke-width="1.2" />
<text x="490.2" y="564.6" font-size="11.5" fill="#ff0000" text-anchor="start"  stroke="#ff0000" stroke-width="0.12">8</text>
<line x1="485.6" y1="532.3" x2="482.3" y2="532.3" stroke="#ff0000" stroke-width="1.2" />
<text x="490.2" y="536.2" font-size="11.5" fill="#ff0000" text-anchor="start"  stroke="#ff0000" stroke-width="0.12">10</text>
<line x1="485.6" y1="503.9" x2="482.3" y2="503.9" stroke="#ff0000" stroke-width="1.2" />
<text x="490.2" y="507.8" font-size="11.5" fill="#ff0000" text-anchor="start"  stroke="#ff0000" stroke-width="0.12">12</text>
<text x="0" y="0" font-size="11.3" fill="#000" text-anchor="middle" transform="translate(178.4,589.7) rotate(-90)" textLength="56.8" lengthAdjust="spacingAndGlyphs"><tspan>σ</tspan><tspan dy="2.49" font-size="7.91">1</tspan><tspan dy="-2.49">- </tspan><tspan>σ</tspan><tspan dy="2.49" font-size="7.91">3</tspan><tspan dy="-2.49"> (MPa)</tspan></text>
<text x="0" y="0" font-size="11.3" fill="#0000ff" text-anchor="middle" transform="translate(477.0,576.7) rotate(-90)" textLength="67.9" lengthAdjust="spacingAndGlyphs"><tspan font-style="italic">ε</tspan><tspan dy="2.49" font-size="7.91">1</tspan><tspan dy="-2.49">, </tspan><tspan font-style="italic">ε</tspan><tspan dy="2.49" font-size="7.91">3</tspan><tspan dy="-2.49">, </tspan><tspan font-style="italic">ε</tspan><tspan dy="2.49" font-size="7.91">v</tspan><tspan dy="-2.49"> (10</tspan><tspan dy="-4.52" font-size="7.91">-3</tspan><tspan dy="4.52">)</tspan></text>
<text x="0" y="0" font-size="11.3" fill="#ff0000" text-anchor="middle" transform="translate(507.0,589.8) rotate(-90)" textLength="81.5" lengthAdjust="spacingAndGlyphs"><tspan>AE energy (10</tspan><tspan dy="-4.52" font-size="7.91">5</tspan><tspan dy="4.52">aJ)</tspan></text>
<text x="332.3" y="698.8" font-size="11.3" fill="#000" text-anchor="middle" textLength="21.0" lengthAdjust="spacingAndGlyphs"><tspan font-style="italic">T</tspan><tspan> (s)</tspan></text>
<text x="337.7" y="729.0" font-size="15.2" fill="#000" text-anchor="middle" textLength="131.4" lengthAdjust="spacingAndGlyphs"><tspan>(e) CD-5, </tspan><tspan font-style="italic">σ</tspan><tspan dy="1.52" font-size="11.40">3</tspan><tspan dy="-1.52">=40 MPa</tspan></text>
<line x1="209.2" y1="505.0" x2="228.6" y2="505.0" stroke="#000000" stroke-width="1.3" />
<text x="231.4" y="508.0" font-size="8.68" fill="#000" text-anchor="start"  stroke="#000" stroke-width="0.18"><tspan font-style="italic">σ</tspan><tspan dy="1.91" font-size="6.08">1</tspan><tspan dy="-1.91">- </tspan><tspan font-style="italic">σ</tspan><tspan dy="1.91" font-size="6.08">3</tspan></text>
<line x1="209.2" y1="519.0" x2="228.6" y2="519.0" stroke="#0000ff" stroke-width="1.3" />
<text x="231.4" y="522.0" font-size="8.68" fill="#000" text-anchor="start"  stroke="#000" stroke-width="0.18"><tspan font-style="italic">ε</tspan><tspan dy="1.91" font-size="6.08">1</tspan></text>
<line x1="209.2" y1="533.0" x2="228.6" y2="533.0" stroke="#ff80ff" stroke-width="1.3" />
<text x="231.4" y="536.0" font-size="8.68" fill="#000" text-anchor="start"  stroke="#000" stroke-width="0.18"><tspan font-style="italic">ε</tspan><tspan dy="1.91" font-size="6.08">3</tspan></text>
<line x1="209.2" y1="547.0" x2="228.6" y2="547.0" stroke="#ff8000" stroke-width="1.3" />
<text x="231.4" y="550.0" font-size="8.68" fill="#000" text-anchor="start"  stroke="#000" stroke-width="0.18"><tspan font-style="italic">ε</tspan><tspan dy="1.91" font-size="6.08">V</tspan></text>
<rect x="209.2" y="554.8" width="19.4" height="10.0" fill="#ff0000"/>
<text x="231.4" y="562.8" font-size="8.68" fill="#000" text-anchor="start"  stroke="#000" stroke-width="0.18" textLength="37.2" lengthAdjust="spacingAndGlyphs">AE energy</text>
<line x1="209.2" y1="570.6" x2="228.6" y2="570.6" stroke="#ff0000" stroke-width="1.3" />
<text x="231.4" y="573.6" font-size="8.68" fill="#000" text-anchor="start"  stroke="#000" stroke-width="0.18" textLength="83.3" lengthAdjust="spacingAndGlyphs">AE accumulated energy</text>
</svg>
</body></html>
